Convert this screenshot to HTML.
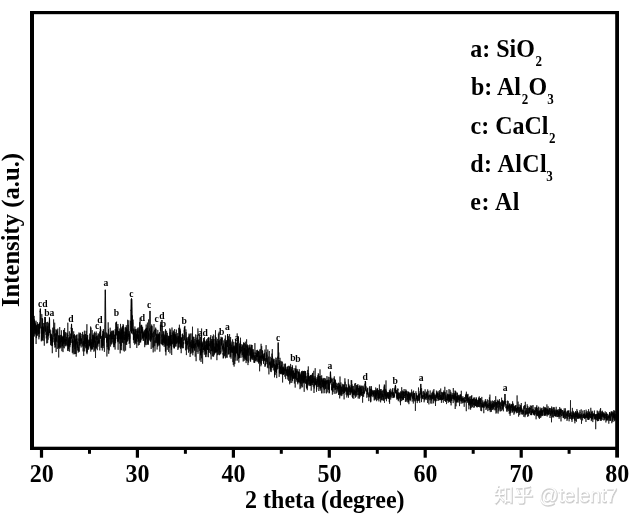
<!DOCTYPE html>
<html><head><meta charset="utf-8"><title>XRD</title>
<style>html,body{margin:0;padding:0;background:#fff}svg text{font-family:"Liberation Serif","Noto Serif CJK SC",serif;font-weight:bold;fill:#000}svg text.wm{font-family:"Liberation Sans","Noto Sans CJK SC",sans-serif;font-weight:normal}</style>
</head><body>
<svg width="634" height="520" viewBox="0 0 634 520" style="display:block;will-change:transform">
<rect width="634" height="520" fill="#fff"/>
<polyline points="32.5,325.6 32.6,337.9 32.7,335.7 32.8,329.6 32.9,327.3 33.0,333.3 33.1,316.8 33.2,320.3 33.3,337.0 33.4,324.8 33.5,332.5 33.6,334.1 33.7,323.6 33.8,335.6 33.9,320.4 34.0,328.4 34.1,327.8 34.2,315.9 34.3,336.5 34.4,319.4 34.5,321.4 34.6,333.6 34.7,320.9 34.8,329.7 34.9,325.3 35.0,325.1 35.1,322.6 35.2,325.7 35.3,328.5 35.4,330.7 35.5,323.6 35.6,334.5 35.7,328.2 35.8,332.8 35.9,324.8 36.0,320.7 36.1,344.0 36.2,324.8 36.3,338.1 36.4,333.2 36.5,328.7 36.6,326.1 36.7,326.3 36.8,336.2 36.9,325.0 37.0,332.7 37.1,327.1 37.2,327.2 37.3,326.3 37.4,322.1 37.5,334.2 37.6,335.6 37.7,333.2 37.8,324.1 37.9,325.5 38.0,324.7 38.1,334.4 38.2,326.8 38.3,326.1 38.4,331.1 38.5,331.3 38.6,330.1 38.7,334.0 38.8,324.1 38.9,339.3 39.0,326.4 39.1,323.9 39.2,337.2 39.3,323.2 39.4,328.9 39.5,322.4 39.7,333.6 39.8,325.9 39.9,325.7 40.0,316.6 40.1,310.7 40.2,312.2 40.3,309.7 40.4,308.8 40.5,311.0 40.6,313.1 40.7,312.9 40.8,319.3 40.9,318.4 41.0,327.3 41.1,328.2 41.2,334.3 41.3,341.3 41.4,335.7 41.5,329.2 41.6,326.7 41.7,339.9 41.8,314.1 41.9,318.8 42.0,319.3 42.1,341.1 42.2,318.0 42.3,330.8 42.4,340.0 42.5,330.8 42.6,318.8 42.7,331.8 42.8,330.6 42.9,334.0 43.0,326.7 43.1,328.7 43.2,337.6 43.3,331.6 43.4,326.7 43.5,334.3 43.6,336.4 43.7,339.0 43.8,340.8 43.9,323.0 44.0,333.2 44.1,323.0 44.2,331.5 44.3,345.7 44.4,330.4 44.5,328.1 44.6,321.9 44.7,321.0 44.8,320.4 44.9,318.5 45.0,317.2 45.1,319.4 45.2,316.9 45.3,323.6 45.4,319.0 45.5,331.8 45.6,329.6 45.7,325.6 45.8,331.0 45.9,327.6 46.0,335.0 46.1,322.7 46.2,338.4 46.3,337.6 46.4,331.7 46.5,333.9 46.6,340.3 46.7,343.4 46.8,335.9 46.9,336.5 47.0,322.0 47.1,328.1 47.2,334.3 47.3,331.0 47.4,326.3 47.5,333.7 47.6,343.1 47.7,341.9 47.8,321.8 47.9,335.4 48.0,329.3 48.1,339.7 48.2,332.1 48.3,334.9 48.4,336.3 48.5,330.6 48.6,324.9 48.7,323.2 48.8,335.3 48.9,327.0 49.0,326.7 49.1,327.6 49.2,322.8 49.3,321.2 49.4,317.3 49.5,318.7 49.6,319.1 49.7,322.1 49.8,330.0 49.9,329.3 50.0,329.5 50.1,334.5 50.2,335.4 50.3,338.0 50.4,333.5 50.5,339.9 50.6,344.9 50.7,330.2 50.8,340.9 50.9,335.2 51.0,340.9 51.1,334.4 51.2,345.6 51.3,339.0 51.4,333.8 51.5,334.3 51.6,337.0 51.7,342.6 51.8,340.4 51.9,346.1 52.0,335.2 52.1,336.5 52.2,340.5 52.3,353.2 52.4,337.8 52.5,344.0 52.6,345.6 52.7,327.7 52.8,335.2 52.9,339.3 53.0,337.2 53.1,342.3 53.2,341.6 53.3,330.6 53.4,331.6 53.5,332.8 53.6,319.4 53.7,324.8 53.8,337.0 54.0,334.5 54.1,327.3 54.2,333.4 54.3,335.6 54.4,333.8 54.5,344.8 54.6,337.2 54.7,322.7 54.8,342.4 54.9,345.0 55.0,347.7 55.1,341.5 55.2,338.7 55.3,347.1 55.4,342.0 55.5,337.3 55.6,342.1 55.7,333.3 55.8,340.6 55.9,329.3 56.0,338.8 56.1,352.0 56.2,333.7 56.3,335.5 56.4,337.1 56.5,341.6 56.6,330.3 56.7,332.9 56.8,335.8 56.9,334.9 57.0,329.6 57.1,344.6 57.2,344.4 57.3,349.0 57.4,341.0 57.5,332.7 57.6,331.6 57.7,334.4 57.8,328.6 57.9,335.1 58.0,342.5 58.1,339.0 58.2,337.3 58.3,334.9 58.4,348.0 58.5,340.1 58.6,344.0 58.7,357.5 58.8,335.8 58.9,347.4 59.0,345.1 59.1,336.4 59.2,340.7 59.3,337.0 59.4,336.0 59.5,347.5 59.6,337.6 59.7,327.1 59.8,348.9 59.9,342.4 60.0,335.0 60.1,337.4 60.2,343.4 60.3,337.5 60.4,341.4 60.5,347.6 60.6,340.6 60.7,343.4 60.8,342.3 60.9,341.2 61.0,334.8 61.1,347.5 61.2,335.7 61.3,340.8 61.4,330.3 61.5,339.5 61.6,342.0 61.7,335.1 61.8,336.0 61.9,351.2 62.0,346.4 62.1,336.1 62.2,346.1 62.3,340.6 62.4,345.7 62.5,336.9 62.6,343.2 62.7,343.9 62.8,339.8 62.9,337.4 63.0,352.1 63.1,338.6 63.2,347.6 63.3,338.8 63.4,336.2 63.5,342.6 63.6,329.9 63.7,337.3 63.8,343.4 63.9,330.2 64.0,344.2 64.1,339.8 64.2,342.9 64.3,348.3 64.4,346.8 64.5,340.9 64.6,328.0 64.7,342.1 64.8,341.2 64.9,339.0 65.0,341.9 65.1,333.6 65.2,345.9 65.3,341.1 65.4,332.1 65.5,340.0 65.6,344.5 65.7,340.5 65.8,339.3 65.9,346.4 66.0,340.9 66.1,339.2 66.2,341.0 66.3,339.4 66.4,336.9 66.5,337.8 66.6,344.7 66.7,344.6 66.8,341.0 66.9,332.6 67.0,340.9 67.1,345.0 67.2,346.0 67.3,333.5 67.4,344.8 67.5,344.6 67.6,344.7 67.7,350.8 67.8,322.7 67.9,336.3 68.0,335.2 68.2,351.1 68.3,341.1 68.4,349.0 68.5,339.9 68.6,341.6 68.7,338.3 68.8,346.6 68.9,337.2 69.0,341.4 69.1,345.9 69.2,339.3 69.3,331.4 69.4,331.3 69.5,336.1 69.6,351.7 69.7,336.7 69.8,343.4 69.9,347.2 70.0,337.4 70.1,342.9 70.2,336.9 70.3,344.6 70.4,345.1 70.5,333.6 70.6,341.5 70.7,337.1 70.8,342.6 70.9,343.0 71.0,335.5 71.1,329.5 71.2,327.5 71.3,329.0 71.4,325.7 71.5,324.2 71.6,324.1 71.7,325.2 71.8,329.8 71.9,334.0 72.0,342.9 72.1,341.1 72.2,339.2 72.3,352.8 72.4,328.1 72.5,338.3 72.6,348.0 72.7,341.5 72.8,340.6 72.9,344.5 73.0,352.5 73.1,340.8 73.2,354.3 73.3,337.8 73.4,336.2 73.5,335.2 73.6,338.1 73.7,331.3 73.8,342.8 73.9,346.6 74.0,340.0 74.1,335.2 74.2,339.2 74.3,342.2 74.4,334.0 74.5,341.2 74.6,354.2 74.7,340.7 74.8,338.3 74.9,335.6 75.0,349.0 75.1,338.5 75.2,341.6 75.3,354.0 75.4,339.8 75.5,345.5 75.6,344.9 75.7,338.2 75.8,335.5 75.9,354.0 76.0,349.9 76.1,341.3 76.2,356.7 76.3,339.1 76.4,340.7 76.5,334.9 76.6,342.8 76.7,344.4 76.8,338.9 76.9,339.2 77.0,335.0 77.1,334.4 77.2,336.6 77.3,347.8 77.4,341.5 77.5,346.2 77.6,350.5 77.7,348.0 77.8,344.7 77.9,346.8 78.0,338.5 78.1,338.7 78.2,352.6 78.3,352.0 78.4,346.9 78.5,351.4 78.6,342.5 78.7,342.8 78.8,341.1 78.9,332.5 79.0,332.6 79.1,341.2 79.2,334.4 79.3,338.6 79.4,351.7 79.5,341.9 79.6,338.6 79.7,345.1 79.8,342.5 79.9,338.2 80.0,332.9 80.1,345.8 80.2,341.3 80.3,337.4 80.4,332.8 80.5,341.0 80.6,336.7 80.7,336.0 80.8,344.0 80.9,337.9 81.0,345.4 81.1,347.5 81.2,338.6 81.3,340.7 81.4,340.6 81.5,338.9 81.6,343.5 81.7,337.8 81.8,337.2 81.9,333.9 82.0,342.2 82.1,344.5 82.2,346.6 82.3,339.9 82.5,338.6 82.6,331.9 82.7,342.0 82.8,345.4 82.9,343.8 83.0,341.6 83.1,351.4 83.2,340.6 83.3,334.7 83.4,338.7 83.5,344.2 83.6,341.7 83.7,355.9 83.8,341.1 83.9,345.4 84.0,337.1 84.1,334.7 84.2,346.4 84.3,346.5 84.4,330.7 84.5,344.7 84.6,345.3 84.7,351.4 84.8,341.7 84.9,337.8 85.0,339.8 85.1,345.7 85.2,334.4 85.3,344.0 85.4,340.9 85.5,337.9 85.6,334.1 85.7,340.5 85.8,347.6 85.9,345.1 86.0,348.4 86.1,330.8 86.2,344.3 86.3,338.1 86.4,347.3 86.5,342.4 86.6,352.7 86.7,337.2 86.8,342.5 86.9,324.2 87.0,354.2 87.1,335.1 87.2,335.6 87.3,343.5 87.4,352.3 87.5,338.1 87.6,348.1 87.7,335.1 87.8,349.6 87.9,343.9 88.0,347.6 88.1,345.9 88.2,340.9 88.3,339.6 88.4,346.7 88.5,346.8 88.6,349.6 88.7,345.8 88.8,341.5 88.9,343.0 89.0,340.0 89.1,340.3 89.2,345.0 89.3,346.2 89.4,343.2 89.5,339.7 89.6,345.0 89.7,333.6 89.8,346.3 89.9,345.5 90.0,337.3 90.1,339.6 90.2,348.3 90.3,347.8 90.4,341.3 90.5,344.8 90.6,326.5 90.7,347.4 90.8,351.6 90.9,337.1 91.0,327.6 91.1,342.6 91.2,348.6 91.3,339.3 91.4,349.8 91.5,345.4 91.6,342.0 91.7,346.0 91.8,349.0 91.9,343.2 92.0,334.0 92.1,332.0 92.2,330.1 92.3,332.4 92.4,349.5 92.5,346.8 92.6,334.7 92.7,348.5 92.8,335.0 92.9,344.0 93.0,342.9 93.1,337.5 93.2,340.0 93.3,337.1 93.4,340.6 93.5,347.1 93.6,335.6 93.7,345.0 93.8,334.5 93.9,351.7 94.0,334.5 94.1,332.9 94.2,339.2 94.3,339.2 94.4,339.5 94.5,342.7 94.6,331.7 94.7,350.6 94.8,336.9 94.9,338.9 95.0,336.8 95.1,339.3 95.2,348.4 95.3,340.7 95.4,344.3 95.5,358.0 95.6,348.8 95.7,345.0 95.8,333.1 95.9,346.5 96.0,347.5 96.1,341.3 96.2,331.5 96.3,339.9 96.4,336.1 96.5,348.6 96.7,344.0 96.8,343.1 96.9,336.3 97.0,336.9 97.1,346.3 97.2,346.6 97.3,350.2 97.4,343.0 97.5,341.3 97.6,345.2 97.7,335.4 97.8,340.0 97.9,337.8 98.0,346.7 98.1,333.3 98.2,337.2 98.3,340.9 98.4,343.8 98.5,340.1 98.6,343.0 98.7,339.2 98.8,333.9 98.9,341.3 99.0,342.0 99.1,340.5 99.2,340.6 99.3,342.4 99.4,343.6 99.5,341.3 99.6,331.6 99.7,346.5 99.8,350.4 99.9,334.8 100.0,335.1 100.1,337.2 100.2,332.2 100.3,326.4 100.4,330.3 100.5,326.5 100.6,328.5 100.7,328.7 100.8,330.5 100.9,329.8 101.0,336.6 101.1,339.7 101.2,347.7 101.3,340.7 101.4,339.8 101.5,341.1 101.6,336.0 101.7,345.0 101.8,347.8 101.9,341.0 102.0,343.2 102.1,341.6 102.2,337.5 102.3,350.5 102.4,334.9 102.5,345.3 102.6,346.0 102.7,334.4 102.8,345.4 102.9,331.0 103.0,346.1 103.1,330.7 103.2,348.1 103.3,341.5 103.4,329.1 103.5,332.3 103.6,335.0 103.7,336.0 103.8,335.9 103.9,337.0 104.0,339.9 104.1,332.3 104.2,336.7 104.3,337.3 104.4,351.9 104.5,334.2 104.6,324.4 104.7,324.4 104.8,321.5 104.9,311.5 105.0,300.8 105.1,296.3 105.2,289.8 105.3,289.9 105.4,292.3 105.5,295.6 105.6,306.1 105.7,310.2 105.8,318.2 105.9,319.7 106.0,329.6 106.1,334.6 106.2,338.1 106.3,332.5 106.4,338.4 106.5,338.5 106.6,342.6 106.7,337.5 106.8,336.9 106.9,356.5 107.0,349.6 107.1,333.4 107.2,347.0 107.3,334.6 107.4,340.4 107.5,339.8 107.6,338.8 107.7,338.9 107.8,337.6 107.9,342.9 108.0,347.1 108.1,349.2 108.2,322.3 108.3,349.8 108.4,337.0 108.5,329.1 108.6,338.5 108.7,353.8 108.8,348.8 108.9,347.9 109.0,334.8 109.1,350.1 109.2,350.4 109.3,349.9 109.4,346.5 109.5,337.6 109.6,334.7 109.7,334.9 109.8,339.4 109.9,339.5 110.0,337.8 110.1,335.3 110.2,327.7 110.3,336.2 110.4,333.8 110.5,342.8 110.6,346.6 110.7,331.9 110.9,343.6 111.0,341.2 111.1,338.9 111.2,332.6 111.3,333.8 111.4,338.5 111.5,330.8 111.6,344.5 111.7,337.6 111.8,339.4 111.9,336.9 112.0,333.7 112.1,335.9 112.2,342.3 112.3,342.4 112.4,337.4 112.5,335.9 112.6,339.0 112.7,331.2 112.8,336.7 112.9,330.4 113.0,334.1 113.1,343.7 113.2,339.4 113.3,331.2 113.4,333.4 113.5,339.0 113.6,330.6 113.7,338.1 113.8,347.2 113.9,339.3 114.0,344.9 114.1,338.0 114.2,347.1 114.3,338.4 114.4,338.0 114.5,345.0 114.6,334.6 114.7,335.8 114.8,334.9 114.9,338.7 115.0,335.9 115.1,349.6 115.2,329.1 115.3,341.0 115.4,332.2 115.5,337.4 115.6,343.3 115.7,332.1 115.8,322.6 115.9,334.6 116.0,334.3 116.1,327.0 116.2,323.7 116.3,322.3 116.4,322.2 116.5,322.0 116.6,321.6 116.7,324.8 116.8,328.7 116.9,331.1 117.0,334.4 117.1,339.0 117.2,333.8 117.3,329.1 117.4,340.7 117.5,335.7 117.6,336.2 117.7,326.7 117.8,342.2 117.9,324.0 118.0,334.2 118.1,349.8 118.2,334.3 118.3,341.7 118.4,331.9 118.5,331.3 118.6,340.2 118.7,340.8 118.8,333.9 118.9,331.0 119.0,333.6 119.1,336.1 119.2,331.2 119.3,343.6 119.4,332.7 119.5,334.0 119.6,331.6 119.7,328.5 119.8,339.4 119.9,332.2 120.0,338.8 120.1,336.2 120.2,353.4 120.3,341.3 120.4,349.9 120.5,323.9 120.6,337.4 120.7,340.9 120.8,329.9 120.9,338.7 121.0,332.4 121.1,346.0 121.2,334.9 121.3,335.3 121.4,350.2 121.5,335.0 121.6,329.1 121.7,338.8 121.8,331.2 121.9,327.7 122.0,338.0 122.1,339.8 122.2,327.1 122.3,342.2 122.4,325.9 122.5,334.6 122.6,342.9 122.7,339.4 122.8,328.0 122.9,333.2 123.0,329.8 123.1,324.0 123.2,340.2 123.3,350.6 123.4,329.8 123.5,325.3 123.6,332.2 123.7,338.4 123.8,339.8 123.9,331.8 124.0,343.6 124.1,331.5 124.2,337.8 124.3,351.6 124.4,338.6 124.5,337.2 124.6,340.0 124.7,334.7 124.8,336.5 124.9,330.3 125.0,328.5 125.2,327.3 125.3,339.6 125.4,327.4 125.5,338.1 125.6,350.6 125.7,340.9 125.8,332.3 125.9,338.2 126.0,344.9 126.1,331.7 126.2,343.2 126.3,325.2 126.4,328.6 126.5,342.2 126.6,327.7 126.7,344.8 126.8,332.7 126.9,337.9 127.0,335.0 127.1,329.2 127.2,340.7 127.3,335.4 127.4,341.6 127.5,326.5 127.6,319.8 127.7,335.2 127.8,335.2 127.9,333.9 128.0,339.2 128.1,337.4 128.2,324.8 128.3,326.6 128.4,330.8 128.5,334.7 128.6,333.9 128.7,336.8 128.8,320.3 128.9,340.6 129.0,334.0 129.1,336.4 129.2,344.0 129.3,338.4 129.4,331.3 129.5,332.4 129.6,342.8 129.7,335.4 129.8,338.7 129.9,333.5 130.0,344.0 130.1,348.1 130.2,329.1 130.3,328.8 130.4,325.4 130.5,320.8 130.6,331.4 130.7,325.3 130.8,311.0 130.9,309.8 131.0,310.8 131.1,305.8 131.2,304.4 131.3,300.3 131.4,300.6 131.5,298.1 131.6,299.7 131.7,300.2 131.8,302.7 131.9,306.4 132.0,307.5 132.1,310.8 132.2,313.5 132.3,324.8 132.4,315.4 132.5,323.2 132.6,331.3 132.7,322.7 132.8,322.5 132.9,333.9 133.0,322.0 133.1,319.6 133.2,334.8 133.3,332.4 133.4,339.9 133.5,329.7 133.6,340.2 133.7,331.9 133.8,328.5 133.9,342.4 134.0,343.1 134.1,329.4 134.2,332.7 134.3,335.4 134.4,338.3 134.5,334.5 134.6,332.5 134.7,344.7 134.8,337.3 134.9,326.5 135.0,328.7 135.1,331.3 135.2,341.5 135.3,342.0 135.4,329.3 135.5,343.4 135.6,339.0 135.7,341.1 135.8,339.2 135.9,329.9 136.0,329.0 136.1,343.8 136.2,330.6 136.3,338.9 136.4,341.2 136.5,334.2 136.6,341.8 136.7,341.7 136.8,348.0 136.9,337.3 137.0,335.6 137.1,336.3 137.2,328.7 137.3,337.9 137.4,330.9 137.5,335.8 137.6,339.1 137.7,336.6 137.8,327.7 137.9,341.8 138.0,337.2 138.1,330.6 138.2,335.4 138.3,345.5 138.4,334.4 138.5,334.6 138.6,339.8 138.7,341.1 138.8,334.8 138.9,327.4 139.0,333.1 139.1,328.9 139.2,345.0 139.4,339.2 139.5,334.2 139.6,322.2 139.7,331.7 139.8,343.1 139.9,338.4 140.0,333.7 140.1,317.6 140.2,334.6 140.3,331.6 140.4,341.9 140.5,334.1 140.6,337.9 140.7,342.4 140.8,325.4 140.9,327.7 141.0,330.0 141.1,335.9 141.2,340.3 141.3,332.5 141.4,326.4 141.5,328.5 141.6,324.8 141.7,325.6 141.8,326.3 141.9,331.2 142.0,328.2 142.1,333.0 142.2,339.0 142.3,334.4 142.4,336.5 142.5,337.6 142.6,326.8 142.7,337.9 142.8,329.5 142.9,333.0 143.0,332.7 143.1,333.6 143.2,340.7 143.3,332.3 143.4,340.7 143.5,335.5 143.6,333.0 143.7,332.7 143.8,336.6 143.9,337.4 144.0,331.0 144.1,337.3 144.2,334.1 144.3,335.9 144.4,335.0 144.5,334.9 144.6,330.2 144.7,347.2 144.8,341.9 144.9,332.6 145.0,333.0 145.1,333.4 145.2,344.5 145.3,329.1 145.4,342.2 145.5,333.4 145.6,333.7 145.7,328.6 145.8,340.4 145.9,345.2 146.0,340.4 146.1,332.7 146.2,324.5 146.3,334.3 146.4,339.4 146.5,328.1 146.6,338.0 146.7,331.1 146.8,328.2 146.9,328.2 147.0,344.9 147.1,334.4 147.2,327.3 147.3,332.6 147.4,322.6 147.5,326.5 147.6,325.9 147.7,338.7 147.8,343.4 147.9,331.7 148.0,344.1 148.1,330.8 148.2,345.0 148.3,340.9 148.4,339.3 148.5,334.3 148.6,319.4 148.7,336.5 148.8,332.8 148.9,337.3 149.0,340.7 149.1,338.4 149.2,334.5 149.3,339.6 149.4,334.5 149.5,328.4 149.6,331.2 149.7,321.1 149.8,315.2 149.9,313.0 150.0,310.9 150.1,314.2 150.2,316.4 150.3,327.1 150.4,341.5 150.5,336.3 150.6,338.2 150.7,330.9 150.8,341.5 150.9,326.5 151.0,329.5 151.1,336.9 151.2,349.0 151.3,341.4 151.4,333.3 151.5,325.7 151.6,339.6 151.7,324.5 151.8,325.3 151.9,335.5 152.0,335.6 152.1,326.1 152.2,330.8 152.3,337.4 152.4,333.3 152.5,337.9 152.6,341.1 152.7,345.4 152.8,347.6 152.9,341.5 153.0,337.1 153.1,335.7 153.2,352.4 153.3,336.5 153.4,335.7 153.5,331.6 153.7,347.4 153.8,340.5 153.9,332.0 154.0,324.1 154.1,331.7 154.2,334.9 154.3,336.9 154.4,329.9 154.5,334.3 154.6,340.4 154.7,345.9 154.8,342.2 154.9,340.3 155.0,351.5 155.1,337.3 155.2,342.8 155.3,328.8 155.4,330.8 155.5,334.5 155.6,332.7 155.7,327.6 155.8,332.6 155.9,336.1 156.0,329.2 156.1,343.3 156.2,336.1 156.3,342.6 156.4,336.6 156.5,334.4 156.6,336.6 156.7,337.3 156.8,333.7 156.9,340.5 157.0,336.1 157.1,349.5 157.2,347.2 157.3,334.4 157.4,345.2 157.5,339.9 157.6,337.6 157.7,346.7 157.8,329.9 157.9,336.7 158.0,338.7 158.1,343.4 158.2,333.5 158.3,338.3 158.4,339.5 158.5,334.3 158.6,343.5 158.7,344.5 158.8,334.8 158.9,345.8 159.0,334.8 159.1,339.8 159.2,341.6 159.3,338.4 159.4,345.1 159.5,332.2 159.6,338.2 159.7,333.8 159.8,351.7 159.9,349.3 160.0,337.0 160.1,341.3 160.2,343.7 160.3,335.8 160.4,324.7 160.5,330.9 160.6,330.6 160.7,325.9 160.8,324.4 160.9,322.7 161.0,321.7 161.1,323.6 161.2,326.9 161.3,325.3 161.4,327.1 161.5,338.4 161.6,339.5 161.7,344.1 161.8,334.6 161.9,343.3 162.0,344.5 162.1,339.9 162.2,339.3 162.3,344.5 162.4,325.7 162.5,341.3 162.6,340.6 162.7,343.9 162.8,345.5 162.9,338.6 163.0,335.3 163.1,334.0 163.2,345.1 163.3,331.0 163.4,334.4 163.5,335.7 163.6,342.8 163.7,332.3 163.8,335.7 163.9,338.3 164.0,342.3 164.1,338.0 164.2,346.9 164.3,336.9 164.4,341.2 164.5,343.7 164.6,334.6 164.7,341.0 164.8,337.8 164.9,336.4 165.0,337.7 165.1,345.6 165.2,330.8 165.3,339.3 165.4,351.4 165.5,329.2 165.6,341.3 165.7,351.7 165.8,340.5 165.9,355.4 166.0,338.7 166.1,343.8 166.2,338.6 166.3,335.1 166.4,344.7 166.5,342.4 166.6,330.8 166.7,341.5 166.8,344.6 166.9,345.9 167.0,346.1 167.1,344.4 167.2,349.8 167.3,332.9 167.4,334.1 167.5,341.4 167.6,345.4 167.7,344.0 167.9,335.4 168.0,341.7 168.1,345.1 168.2,338.5 168.3,341.6 168.4,342.3 168.5,338.9 168.6,351.9 168.7,339.6 168.8,336.0 168.9,347.5 169.0,336.4 169.1,347.6 169.2,336.1 169.3,345.0 169.4,339.5 169.5,337.7 169.6,339.1 169.7,328.4 169.8,328.7 169.9,345.8 170.0,353.4 170.1,332.1 170.2,336.0 170.3,345.5 170.4,339.1 170.5,344.0 170.6,329.6 170.7,343.0 170.8,334.9 170.9,346.2 171.0,339.1 171.1,343.9 171.2,341.1 171.3,335.0 171.4,349.7 171.5,341.1 171.6,344.4 171.7,355.0 171.8,343.2 171.9,333.1 172.0,327.5 172.1,331.6 172.2,343.7 172.3,332.5 172.4,337.4 172.5,337.5 172.6,344.3 172.7,340.2 172.8,339.8 172.9,335.5 173.0,335.8 173.1,330.4 173.2,337.1 173.3,346.9 173.4,336.3 173.5,337.4 173.6,331.3 173.7,343.0 173.8,334.0 173.9,341.6 174.0,348.3 174.1,334.6 174.2,348.3 174.3,340.2 174.4,333.5 174.5,348.1 174.6,329.0 174.7,343.5 174.8,338.9 174.9,338.5 175.0,340.7 175.1,332.2 175.2,338.8 175.3,334.8 175.4,346.1 175.5,346.5 175.6,335.9 175.7,344.3 175.8,334.0 175.9,336.9 176.0,342.4 176.1,346.5 176.2,338.3 176.3,337.2 176.4,329.6 176.5,343.5 176.6,340.4 176.7,338.6 176.8,336.5 176.9,339.3 177.0,343.5 177.1,342.9 177.2,338.6 177.3,337.9 177.4,342.4 177.5,335.9 177.6,333.1 177.7,333.2 177.8,336.7 177.9,350.0 178.0,345.2 178.1,335.9 178.2,345.3 178.3,348.5 178.4,348.1 178.5,336.5 178.6,343.8 178.7,327.8 178.8,337.7 178.9,344.0 179.0,347.0 179.1,340.3 179.2,336.7 179.3,343.6 179.4,324.7 179.5,334.4 179.6,342.8 179.7,341.0 179.8,327.8 179.9,337.1 180.0,347.7 180.1,329.1 180.2,336.9 180.3,344.3 180.4,330.7 180.5,348.8 180.6,339.8 180.7,338.6 180.8,346.0 180.9,346.8 181.0,345.0 181.1,337.4 181.2,353.2 181.3,337.4 181.4,341.3 181.5,338.4 181.6,341.3 181.7,340.4 181.8,346.7 181.9,339.4 182.0,347.8 182.2,334.1 182.3,336.9 182.4,348.3 182.5,337.4 182.6,333.6 182.7,336.3 182.8,338.8 182.9,337.0 183.0,338.0 183.1,335.5 183.2,335.9 183.3,335.5 183.4,346.3 183.5,348.2 183.6,342.1 183.7,344.3 183.8,338.6 183.9,340.9 184.0,334.4 184.1,330.5 184.2,331.4 184.3,328.1 184.4,327.8 184.5,326.7 184.6,329.2 184.7,330.1 184.8,328.3 184.9,325.9 185.0,336.5 185.1,336.2 185.2,337.2 185.3,342.1 185.4,343.5 185.5,339.7 185.6,350.3 185.7,345.8 185.8,344.3 185.9,329.4 186.0,344.0 186.1,332.1 186.2,337.7 186.3,341.2 186.4,355.1 186.5,343.4 186.6,337.5 186.7,347.8 186.8,341.0 186.9,349.5 187.0,344.5 187.1,338.7 187.2,338.4 187.3,338.8 187.4,345.4 187.5,341.1 187.6,344.7 187.7,343.2 187.8,341.4 187.9,342.2 188.0,337.0 188.1,342.2 188.2,349.3 188.3,345.4 188.4,346.0 188.5,352.7 188.6,336.5 188.7,344.5 188.8,343.7 188.9,340.3 189.0,333.6 189.1,337.0 189.2,341.4 189.3,338.4 189.4,334.6 189.5,346.8 189.6,339.8 189.7,338.6 189.8,351.3 189.9,342.5 190.0,341.8 190.1,357.0 190.2,347.8 190.3,343.5 190.4,333.5 190.5,340.7 190.6,345.6 190.7,353.9 190.8,342.1 190.9,343.0 191.0,346.8 191.1,345.5 191.2,344.3 191.3,340.2 191.4,348.1 191.5,348.3 191.6,344.4 191.7,344.4 191.8,353.3 191.9,333.6 192.0,333.4 192.1,348.2 192.2,339.6 192.3,351.5 192.4,337.5 192.5,326.7 192.6,341.3 192.7,336.7 192.8,355.3 192.9,341.2 193.0,344.1 193.1,352.6 193.2,345.9 193.3,348.1 193.4,336.8 193.5,348.0 193.6,347.0 193.7,343.5 193.8,340.9 193.9,348.3 194.0,336.9 194.1,340.7 194.2,342.3 194.3,342.9 194.4,349.8 194.5,343.9 194.6,347.1 194.7,350.9 194.8,339.9 194.9,339.0 195.0,346.0 195.1,345.0 195.2,356.7 195.3,353.2 195.4,342.9 195.5,346.3 195.6,334.4 195.7,334.8 195.8,348.2 195.9,347.6 196.0,345.5 196.1,361.2 196.2,352.1 196.4,346.6 196.5,340.2 196.6,342.1 196.7,344.7 196.8,339.6 196.9,337.6 197.0,351.9 197.1,345.2 197.2,334.9 197.3,339.2 197.4,340.6 197.5,345.6 197.6,343.1 197.7,339.9 197.8,346.8 197.9,328.4 198.0,353.8 198.1,351.1 198.2,351.5 198.3,339.8 198.4,342.4 198.5,345.7 198.6,342.4 198.7,343.5 198.8,348.6 198.9,344.1 199.0,346.9 199.1,339.4 199.2,350.9 199.3,348.5 199.4,334.4 199.5,340.5 199.6,344.8 199.7,341.2 199.8,341.3 199.9,360.4 200.0,354.1 200.1,342.9 200.2,346.0 200.3,343.4 200.4,343.2 200.5,336.9 200.6,355.4 200.7,349.1 200.8,354.9 200.9,345.9 201.0,362.0 201.1,356.0 201.2,355.8 201.3,335.9 201.4,358.3 201.5,343.3 201.6,328.5 201.7,352.9 201.8,349.9 201.9,342.6 202.0,343.0 202.1,346.2 202.2,343.7 202.3,347.1 202.4,343.7 202.5,350.5 202.6,363.7 202.7,341.6 202.8,348.7 202.9,350.3 203.0,352.4 203.1,350.2 203.2,348.0 203.3,349.9 203.4,346.3 203.5,338.1 203.6,349.8 203.7,347.6 203.8,347.8 203.9,347.5 204.0,339.9 204.1,349.4 204.2,346.7 204.3,354.7 204.4,344.8 204.5,337.1 204.6,342.9 204.7,349.5 204.8,340.5 204.9,351.0 205.0,346.7 205.1,348.1 205.2,351.5 205.3,345.0 205.4,351.5 205.5,357.1 205.6,347.5 205.7,341.3 205.8,345.2 205.9,354.1 206.0,354.4 206.1,342.2 206.2,349.7 206.3,354.3 206.4,350.9 206.5,350.3 206.6,340.4 206.7,348.8 206.8,339.1 206.9,357.1 207.0,350.1 207.1,346.8 207.2,346.3 207.3,348.3 207.4,344.1 207.5,348.8 207.6,350.0 207.7,340.9 207.8,349.6 207.9,337.9 208.0,344.4 208.1,349.5 208.2,347.0 208.3,344.7 208.4,338.0 208.5,357.2 208.6,337.1 208.7,352.1 208.8,340.6 208.9,337.7 209.0,347.7 209.1,350.2 209.2,348.5 209.3,353.0 209.4,345.4 209.5,345.0 209.6,346.0 209.7,343.3 209.8,345.1 209.9,341.1 210.0,343.8 210.1,345.1 210.2,347.7 210.3,337.2 210.4,349.5 210.6,354.3 210.7,348.5 210.8,335.1 210.9,351.0 211.0,350.1 211.1,359.4 211.2,341.3 211.3,350.5 211.4,351.0 211.5,339.1 211.6,342.2 211.7,344.3 211.8,348.0 211.9,351.2 212.0,350.5 212.1,341.2 212.2,342.5 212.3,344.5 212.4,356.2 212.5,338.6 212.6,336.3 212.7,351.4 212.8,340.8 212.9,347.4 213.0,339.0 213.1,352.3 213.2,356.7 213.3,341.3 213.4,334.5 213.5,345.9 213.6,350.4 213.7,356.4 213.8,353.9 213.9,343.3 214.0,351.2 214.1,339.0 214.2,349.4 214.3,350.1 214.4,354.7 214.5,352.4 214.6,350.5 214.7,352.7 214.8,346.5 214.9,353.5 215.0,347.1 215.1,352.8 215.2,335.4 215.3,350.3 215.4,351.7 215.5,330.2 215.6,351.6 215.7,348.9 215.8,352.3 215.9,349.6 216.0,344.7 216.1,344.8 216.2,337.3 216.3,340.3 216.4,352.5 216.5,344.8 216.6,342.8 216.7,345.4 216.8,340.6 216.9,360.2 217.0,343.9 217.1,351.9 217.2,345.4 217.3,342.2 217.4,338.9 217.5,355.2 217.6,349.5 217.7,349.9 217.8,351.1 217.9,346.9 218.0,343.6 218.1,346.6 218.2,344.3 218.3,350.3 218.4,333.5 218.5,348.6 218.6,340.9 218.7,353.8 218.8,350.1 218.9,345.1 219.0,355.0 219.1,331.7 219.2,346.2 219.3,355.2 219.4,344.5 219.5,340.3 219.6,348.5 219.7,348.5 219.8,352.4 219.9,351.2 220.0,342.5 220.1,349.6 220.2,349.3 220.3,338.9 220.4,346.8 220.5,352.2 220.6,354.3 220.7,350.8 220.8,352.3 220.9,353.3 221.0,336.8 221.1,341.6 221.2,343.1 221.3,341.1 221.4,338.8 221.5,338.5 221.6,338.3 221.7,337.4 221.8,339.4 221.9,347.7 222.0,351.5 222.1,349.9 222.2,345.9 222.3,346.9 222.4,349.5 222.5,337.5 222.6,342.8 222.7,348.4 222.8,346.0 222.9,346.2 223.0,354.7 223.1,353.0 223.2,358.5 223.3,345.7 223.4,347.3 223.5,343.6 223.6,358.0 223.7,345.0 223.8,340.4 223.9,346.5 224.0,350.0 224.1,351.2 224.2,347.4 224.3,348.3 224.4,356.3 224.5,353.5 224.6,344.9 224.7,339.9 224.9,338.7 225.0,355.5 225.1,355.1 225.2,349.5 225.3,354.1 225.4,335.4 225.5,358.3 225.6,341.9 225.7,351.4 225.8,341.9 225.9,342.4 226.0,345.1 226.1,351.7 226.2,352.7 226.3,350.5 226.4,340.2 226.5,343.6 226.6,346.1 226.7,351.5 226.8,357.3 226.9,341.8 227.0,357.9 227.1,346.2 227.2,340.6 227.3,341.8 227.4,336.0 227.5,335.3 227.6,334.0 227.7,334.7 227.8,337.4 227.9,342.5 228.0,344.7 228.1,346.0 228.2,354.5 228.3,349.2 228.4,336.2 228.5,340.0 228.6,344.6 228.7,354.1 228.8,352.5 228.9,339.3 229.0,354.3 229.1,349.0 229.2,346.7 229.3,350.1 229.4,349.1 229.5,343.6 229.6,334.1 229.7,345.8 229.8,343.6 229.9,352.6 230.0,357.4 230.1,340.1 230.2,344.8 230.3,351.0 230.4,352.9 230.5,351.1 230.6,337.0 230.7,356.8 230.8,348.9 230.9,343.3 231.0,358.7 231.1,356.9 231.2,347.0 231.3,352.5 231.4,347.7 231.5,348.5 231.6,344.8 231.7,351.5 231.8,342.1 231.9,341.6 232.0,345.3 232.1,346.3 232.2,353.0 232.3,347.6 232.4,350.6 232.5,352.5 232.6,339.4 232.7,353.9 232.8,359.0 232.9,362.1 233.0,346.7 233.1,347.8 233.2,353.2 233.3,364.9 233.4,354.7 233.5,346.5 233.6,355.5 233.7,341.8 233.8,354.6 233.9,352.8 234.0,345.7 234.1,366.6 234.2,345.7 234.3,354.0 234.4,354.2 234.5,348.3 234.6,347.9 234.7,347.1 234.8,364.1 234.9,352.1 235.0,357.5 235.1,357.3 235.2,345.6 235.3,342.3 235.4,356.2 235.5,340.0 235.6,351.4 235.7,352.2 235.8,348.4 235.9,360.7 236.0,342.6 236.1,349.3 236.2,351.5 236.3,346.5 236.4,353.2 236.5,350.5 236.6,353.4 236.7,343.1 236.8,350.2 236.9,346.1 237.0,343.2 237.1,351.5 237.2,333.4 237.3,352.1 237.4,360.6 237.5,347.9 237.6,354.8 237.7,341.6 237.8,348.0 237.9,351.8 238.0,355.7 238.1,336.7 238.2,343.2 238.3,336.5 238.4,341.8 238.5,358.8 238.6,354.3 238.7,355.9 238.8,362.6 238.9,362.1 239.1,344.1 239.2,358.2 239.3,353.4 239.4,356.7 239.5,353.7 239.6,346.1 239.7,357.9 239.8,343.2 239.9,350.1 240.0,354.2 240.1,349.7 240.2,350.5 240.3,341.3 240.4,352.4 240.5,337.7 240.6,346.2 240.7,348.4 240.8,352.7 240.9,350.7 241.0,357.8 241.1,353.2 241.2,353.2 241.3,346.7 241.4,349.7 241.5,351.3 241.6,349.9 241.7,351.0 241.8,344.8 241.9,344.1 242.0,351.4 242.1,354.8 242.2,355.3 242.3,344.9 242.4,350.9 242.5,354.7 242.6,345.8 242.7,348.9 242.8,353.9 242.9,357.3 243.0,355.7 243.1,354.4 243.2,361.5 243.3,356.6 243.4,352.0 243.5,354.3 243.6,342.3 243.7,357.5 243.8,343.2 243.9,355.7 244.0,352.8 244.1,360.9 244.2,348.0 244.3,350.5 244.4,357.5 244.5,356.8 244.6,343.2 244.7,359.4 244.8,348.1 244.9,352.8 245.0,348.0 245.1,347.7 245.2,347.5 245.3,341.7 245.4,346.9 245.5,359.7 245.6,344.4 245.7,357.9 245.8,356.0 245.9,352.6 246.0,350.5 246.1,363.1 246.2,349.4 246.3,355.2 246.4,350.0 246.5,360.5 246.6,339.3 246.7,347.8 246.8,345.6 246.9,354.7 247.0,347.8 247.1,361.2 247.2,359.3 247.3,349.8 247.4,344.5 247.5,355.5 247.6,345.7 247.7,354.1 247.8,359.8 247.9,363.4 248.0,365.1 248.1,349.2 248.2,352.6 248.3,347.8 248.4,347.6 248.5,347.8 248.6,362.6 248.7,358.5 248.8,354.0 248.9,345.2 249.0,351.2 249.1,355.9 249.2,351.9 249.3,348.7 249.4,349.3 249.5,348.8 249.6,347.9 249.7,349.1 249.8,344.5 249.9,354.7 250.0,346.9 250.1,357.8 250.2,360.7 250.3,360.6 250.4,351.7 250.5,355.1 250.6,361.8 250.7,350.7 250.8,349.0 250.9,355.2 251.0,348.1 251.1,355.8 251.2,344.8 251.3,357.9 251.4,344.9 251.5,353.9 251.6,359.4 251.7,356.4 251.8,350.0 251.9,351.9 252.0,357.4 252.1,356.4 252.2,345.0 252.3,350.9 252.4,352.0 252.5,359.6 252.6,349.2 252.7,353.2 252.8,357.8 252.9,354.3 253.0,353.5 253.1,353.0 253.2,360.1 253.4,359.3 253.5,349.4 253.6,350.4 253.7,356.6 253.8,352.2 253.9,354.0 254.0,362.7 254.1,355.7 254.2,359.4 254.3,362.6 254.4,355.3 254.5,358.3 254.6,360.1 254.7,362.9 254.8,355.6 254.9,343.1 255.0,353.1 255.1,354.0 255.2,354.3 255.3,352.5 255.4,358.3 255.5,357.3 255.6,361.3 255.7,355.0 255.8,357.5 255.9,358.0 256.0,360.7 256.1,350.3 256.2,351.3 256.3,360.3 256.4,359.6 256.5,353.2 256.6,356.9 256.7,356.3 256.8,354.7 256.9,356.4 257.0,357.0 257.1,350.1 257.2,362.1 257.3,351.1 257.4,349.8 257.5,356.3 257.6,352.9 257.7,356.4 257.8,351.5 257.9,360.7 258.0,354.4 258.1,354.4 258.2,353.6 258.3,351.3 258.4,351.9 258.5,363.5 258.6,362.9 258.7,350.9 258.8,359.9 258.9,359.1 259.0,362.2 259.1,352.1 259.2,362.1 259.3,358.8 259.4,358.8 259.5,355.6 259.6,371.3 259.7,351.9 259.8,349.6 259.9,359.2 260.0,357.0 260.1,357.1 260.2,357.6 260.3,348.9 260.4,351.4 260.5,358.2 260.6,363.5 260.7,355.9 260.8,356.1 260.9,366.3 261.0,356.0 261.1,343.8 261.2,357.8 261.3,357.7 261.4,355.3 261.5,364.7 261.6,361.1 261.7,346.1 261.8,352.6 261.9,352.1 262.0,361.1 262.1,361.0 262.2,356.2 262.3,358.3 262.4,350.2 262.5,357.3 262.6,355.1 262.7,350.8 262.8,358.6 262.9,354.9 263.0,360.3 263.1,357.9 263.2,357.7 263.3,359.2 263.4,356.1 263.5,363.9 263.6,356.2 263.7,362.5 263.8,359.1 263.9,353.5 264.0,357.7 264.1,354.1 264.2,360.3 264.3,354.2 264.4,355.1 264.5,352.9 264.6,360.9 264.7,355.8 264.8,355.1 264.9,349.6 265.0,367.0 265.1,363.6 265.2,365.6 265.3,363.4 265.4,365.3 265.5,358.2 265.6,360.3 265.7,362.8 265.8,364.2 265.9,360.9 266.0,358.0 266.1,345.1 266.2,360.6 266.3,356.3 266.4,355.0 266.5,352.3 266.6,357.1 266.7,362.1 266.8,361.3 266.9,354.6 267.0,356.3 267.1,364.1 267.2,358.2 267.3,360.1 267.4,367.6 267.6,365.9 267.7,356.1 267.8,349.5 267.9,359.4 268.0,362.5 268.1,368.3 268.2,366.1 268.3,363.8 268.4,361.1 268.5,360.5 268.6,359.9 268.7,356.6 268.8,360.8 268.9,374.4 269.0,363.1 269.1,362.7 269.2,353.4 269.3,351.0 269.4,364.1 269.5,362.5 269.6,365.2 269.7,365.3 269.8,361.8 269.9,364.0 270.0,362.4 270.1,364.5 270.2,368.7 270.3,356.8 270.4,368.0 270.5,363.6 270.6,362.8 270.7,371.5 270.8,363.7 270.9,369.8 271.0,362.5 271.1,361.0 271.2,372.1 271.3,367.1 271.4,366.8 271.5,358.1 271.6,367.2 271.7,365.3 271.8,358.4 271.9,353.6 272.0,361.4 272.1,367.9 272.2,359.6 272.3,349.1 272.4,358.1 272.5,356.5 272.6,358.0 272.7,362.7 272.8,367.7 272.9,358.4 273.0,366.9 273.1,362.6 273.2,361.2 273.3,370.4 273.4,359.3 273.5,366.0 273.6,360.1 273.7,360.3 273.8,361.8 273.9,361.3 274.0,364.6 274.1,360.1 274.2,358.9 274.3,366.6 274.4,366.6 274.5,377.4 274.6,363.9 274.7,365.7 274.8,375.2 274.9,364.8 275.0,365.8 275.1,374.7 275.2,365.1 275.3,366.1 275.4,370.6 275.5,371.9 275.6,366.3 275.7,369.5 275.8,357.6 275.9,360.0 276.0,367.9 276.1,360.2 276.2,362.5 276.3,370.7 276.4,363.4 276.5,372.9 276.6,366.9 276.7,378.1 276.8,367.0 276.9,358.1 277.0,359.1 277.1,369.6 277.2,364.2 277.3,368.8 277.4,363.7 277.5,366.9 277.6,356.7 277.7,357.0 277.8,358.4 277.9,349.7 278.0,345.3 278.1,343.5 278.2,342.5 278.3,343.1 278.4,346.1 278.5,348.0 278.6,354.9 278.7,359.1 278.8,352.5 278.9,363.2 279.0,368.8 279.1,360.0 279.2,376.9 279.3,366.1 279.4,372.9 279.5,361.9 279.6,365.1 279.7,369.1 279.8,367.4 279.9,364.1 280.0,357.8 280.1,373.9 280.2,367.1 280.3,374.2 280.4,371.2 280.5,366.7 280.6,369.3 280.7,368.9 280.8,360.8 280.9,373.9 281.0,370.5 281.1,369.4 281.2,373.0 281.3,366.9 281.4,365.2 281.5,367.8 281.6,374.3 281.7,361.5 281.9,373.3 282.0,371.2 282.1,372.2 282.2,369.0 282.3,361.7 282.4,371.7 282.5,370.9 282.6,382.5 282.7,367.6 282.8,374.3 282.9,367.1 283.0,370.8 283.1,374.9 283.2,371.5 283.3,366.6 283.4,374.6 283.5,368.4 283.6,373.9 283.7,368.7 283.8,374.3 283.9,368.3 284.0,370.0 284.1,363.7 284.2,366.7 284.3,371.0 284.4,370.1 284.5,373.6 284.6,373.7 284.7,368.9 284.8,376.7 284.9,365.4 285.0,364.3 285.1,368.5 285.2,367.6 285.3,368.1 285.4,371.2 285.5,363.6 285.6,378.4 285.7,379.1 285.8,370.6 285.9,367.4 286.0,370.7 286.1,369.5 286.2,375.5 286.3,373.1 286.4,369.7 286.5,373.4 286.6,372.9 286.7,369.6 286.8,372.0 286.9,374.7 287.0,375.6 287.1,372.4 287.2,366.6 287.3,376.0 287.4,366.8 287.5,366.6 287.6,369.9 287.7,370.3 287.8,379.5 287.9,369.8 288.0,369.2 288.1,377.1 288.2,369.5 288.3,371.3 288.4,373.3 288.5,376.0 288.6,380.8 288.7,374.2 288.8,365.8 288.9,376.0 289.0,376.2 289.1,365.9 289.2,370.5 289.3,375.0 289.4,371.9 289.5,367.2 289.6,367.2 289.7,384.3 289.8,366.8 289.9,370.0 290.0,375.1 290.1,371.4 290.2,382.9 290.3,372.9 290.4,380.3 290.5,368.2 290.6,363.9 290.7,373.6 290.8,374.9 290.9,372.1 291.0,370.4 291.1,377.4 291.2,373.1 291.3,367.1 291.4,375.9 291.5,370.2 291.6,368.9 291.7,380.9 291.8,383.0 291.9,373.4 292.0,370.9 292.1,374.6 292.2,380.1 292.3,365.2 292.4,369.6 292.5,366.7 292.6,381.2 292.7,374.3 292.8,370.3 292.9,371.7 293.0,379.0 293.1,370.9 293.2,376.7 293.3,378.7 293.4,370.6 293.5,377.3 293.6,372.7 293.7,378.1 293.8,372.7 293.9,373.1 294.0,377.8 294.1,368.1 294.2,372.0 294.3,375.8 294.4,383.5 294.5,372.9 294.6,377.5 294.7,377.8 294.8,373.8 294.9,376.0 295.0,378.8 295.1,376.6 295.2,387.6 295.3,373.1 295.4,369.2 295.5,377.8 295.6,368.3 295.7,378.8 295.8,373.7 295.9,365.5 296.1,375.2 296.2,381.7 296.3,371.0 296.4,373.1 296.5,374.1 296.6,380.1 296.7,371.2 296.8,371.9 296.9,368.9 297.0,371.7 297.1,373.5 297.2,369.5 297.3,379.2 297.4,379.3 297.5,378.8 297.6,382.7 297.7,377.9 297.8,384.3 297.9,377.4 298.0,376.1 298.1,371.0 298.2,381.9 298.3,372.2 298.4,377.7 298.5,372.2 298.6,372.0 298.7,382.3 298.8,373.8 298.9,382.2 299.0,374.2 299.1,378.9 299.2,369.5 299.3,369.2 299.4,382.5 299.5,378.1 299.6,372.5 299.7,372.2 299.8,374.5 299.9,381.5 300.0,389.2 300.1,378.5 300.2,374.0 300.3,377.9 300.4,383.7 300.5,375.1 300.6,375.2 300.7,378.2 300.8,378.9 300.9,388.1 301.0,372.6 301.1,376.2 301.2,381.0 301.3,380.5 301.4,386.4 301.5,371.2 301.6,372.1 301.7,380.4 301.8,377.5 301.9,371.8 302.0,383.5 302.1,376.0 302.2,378.4 302.3,375.6 302.4,370.8 302.5,379.9 302.6,387.3 302.7,375.8 302.8,378.3 302.9,380.6 303.0,372.5 303.1,377.4 303.2,382.3 303.3,371.1 303.4,375.3 303.5,383.3 303.6,371.8 303.7,371.0 303.8,374.7 303.9,379.0 304.0,381.8 304.1,375.1 304.2,391.8 304.3,374.5 304.4,370.8 304.5,378.0 304.6,382.7 304.7,376.0 304.8,378.3 304.9,376.4 305.0,371.3 305.1,378.1 305.2,371.4 305.3,378.1 305.4,378.3 305.5,383.6 305.6,371.2 305.7,377.4 305.8,373.2 305.9,383.3 306.0,375.9 306.1,377.0 306.2,380.1 306.3,381.0 306.4,387.4 306.5,379.5 306.6,388.5 306.7,383.4 306.8,383.8 306.9,380.4 307.0,376.5 307.1,388.3 307.2,379.5 307.3,390.2 307.4,380.8 307.5,377.9 307.6,371.9 307.7,369.9 307.8,374.0 307.9,373.4 308.0,383.8 308.1,375.2 308.2,384.9 308.3,366.4 308.4,381.4 308.5,378.2 308.6,373.2 308.7,377.9 308.8,381.0 308.9,376.2 309.0,377.1 309.1,386.1 309.2,381.5 309.3,379.9 309.4,376.7 309.5,378.4 309.6,384.4 309.7,380.6 309.8,381.0 309.9,380.7 310.0,375.7 310.1,385.7 310.2,376.1 310.4,380.2 310.5,385.3 310.6,375.0 310.7,385.8 310.8,381.8 310.9,383.5 311.0,375.1 311.1,377.4 311.2,390.7 311.3,384.5 311.4,374.7 311.5,383.0 311.6,379.3 311.7,385.1 311.8,380.2 311.9,377.0 312.0,376.3 312.1,376.6 312.2,379.6 312.3,383.0 312.4,381.9 312.5,373.4 312.6,385.0 312.7,372.9 312.8,375.7 312.9,378.8 313.0,382.9 313.1,376.3 313.2,386.6 313.3,382.8 313.4,378.1 313.5,382.3 313.6,381.1 313.7,374.6 313.8,370.8 313.9,383.5 314.0,393.0 314.1,384.6 314.2,388.5 314.3,388.4 314.4,381.8 314.5,385.8 314.6,377.6 314.7,383.0 314.8,381.2 314.9,380.3 315.0,376.0 315.1,383.8 315.2,368.2 315.3,383.2 315.4,379.0 315.5,385.1 315.6,378.8 315.7,378.0 315.8,380.6 315.9,379.2 316.0,384.5 316.1,379.3 316.2,381.0 316.3,386.5 316.4,382.3 316.5,391.8 316.6,381.3 316.7,389.5 316.8,381.1 316.9,383.1 317.0,381.1 317.1,377.0 317.2,384.5 317.3,378.5 317.4,378.3 317.5,378.4 317.6,386.9 317.7,385.5 317.8,375.3 317.9,381.5 318.0,379.0 318.1,382.5 318.2,378.2 318.3,373.2 318.4,380.6 318.5,381.8 318.6,386.5 318.7,374.1 318.8,391.0 318.9,386.4 319.0,380.4 319.1,376.0 319.2,386.8 319.3,383.6 319.4,384.9 319.5,376.2 319.6,377.5 319.7,384.8 319.8,379.3 319.9,388.7 320.0,369.4 320.1,384.5 320.2,381.4 320.3,390.6 320.4,389.0 320.5,386.8 320.6,388.2 320.7,375.9 320.8,382.4 320.9,385.3 321.0,384.6 321.1,387.9 321.2,377.9 321.3,385.5 321.4,387.0 321.5,393.3 321.6,390.2 321.7,375.3 321.8,381.8 321.9,379.6 322.0,381.8 322.1,386.4 322.2,378.4 322.3,383.8 322.4,385.7 322.5,387.2 322.6,385.4 322.7,380.1 322.8,383.9 322.9,381.7 323.0,393.3 323.1,390.4 323.2,378.8 323.3,383.9 323.4,387.2 323.5,381.0 323.6,388.5 323.7,379.5 323.8,386.1 323.9,377.9 324.0,379.9 324.1,383.6 324.2,378.0 324.3,390.1 324.4,387.8 324.6,381.0 324.7,385.0 324.8,393.2 324.9,383.5 325.0,380.8 325.1,380.4 325.2,386.5 325.3,380.8 325.4,385.9 325.5,378.5 325.6,389.1 325.7,386.3 325.8,388.5 325.9,386.1 326.0,385.0 326.1,384.8 326.2,384.0 326.3,381.0 326.4,382.6 326.5,393.4 326.6,380.2 326.7,382.7 326.8,384.3 326.9,376.1 327.0,380.9 327.1,382.9 327.2,383.3 327.3,380.4 327.4,379.9 327.5,381.7 327.6,383.0 327.7,391.7 327.8,392.4 327.9,380.6 328.0,384.4 328.1,389.0 328.2,379.6 328.3,376.8 328.4,389.9 328.5,379.7 328.6,388.6 328.7,389.2 328.8,387.6 328.9,388.6 329.0,381.6 329.1,393.3 329.2,389.9 329.3,387.8 329.4,384.5 329.5,393.1 329.6,380.0 329.7,384.7 329.8,385.0 329.9,377.1 330.0,380.1 330.1,376.0 330.2,372.9 330.3,373.0 330.4,371.8 330.5,371.5 330.6,372.0 330.7,374.0 330.8,375.2 330.9,376.0 331.0,378.0 331.1,381.0 331.2,377.8 331.3,382.1 331.4,379.4 331.5,380.9 331.6,390.1 331.7,386.7 331.8,390.4 331.9,386.8 332.0,383.8 332.1,386.8 332.2,379.0 332.3,387.9 332.4,394.7 332.5,384.7 332.6,391.6 332.7,387.8 332.8,386.9 332.9,389.5 333.0,391.8 333.1,377.8 333.2,388.1 333.3,382.1 333.4,387.5 333.5,383.9 333.6,384.9 333.7,384.6 333.8,387.0 333.9,386.5 334.0,383.8 334.1,382.7 334.2,393.8 334.3,376.3 334.4,387.9 334.5,378.8 334.6,381.1 334.7,382.4 334.8,381.2 334.9,382.6 335.0,379.3 335.1,389.9 335.2,386.6 335.3,389.4 335.4,389.3 335.5,380.2 335.6,386.7 335.7,386.0 335.8,382.8 335.9,393.8 336.0,387.9 336.1,388.5 336.2,382.8 336.3,383.6 336.4,386.9 336.5,385.9 336.6,386.5 336.7,385.8 336.8,393.1 336.9,388.3 337.0,386.3 337.1,387.0 337.2,389.0 337.3,388.1 337.4,385.1 337.5,383.8 337.6,383.6 337.7,388.1 337.8,390.4 337.9,387.2 338.0,391.8 338.1,386.3 338.2,387.6 338.3,388.5 338.4,382.7 338.5,389.4 338.6,395.0 338.8,392.3 338.9,386.0 339.0,394.6 339.1,383.1 339.2,386.5 339.3,387.1 339.4,388.3 339.5,384.5 339.6,395.5 339.7,398.4 339.8,389.7 339.9,393.8 340.0,376.5 340.1,392.3 340.2,385.7 340.3,395.1 340.4,386.4 340.5,385.7 340.6,385.3 340.7,385.2 340.8,388.1 340.9,382.4 341.0,396.2 341.1,392.8 341.2,389.7 341.3,388.3 341.4,394.5 341.5,392.1 341.6,387.0 341.7,388.4 341.8,389.6 341.9,395.8 342.0,386.3 342.1,391.1 342.2,394.3 342.3,383.8 342.4,385.0 342.5,390.8 342.6,391.7 342.7,389.8 342.8,390.5 342.9,391.1 343.0,390.2 343.1,384.8 343.2,391.4 343.3,394.1 343.4,393.3 343.5,390.2 343.6,384.4 343.7,390.9 343.8,392.9 343.9,387.7 344.0,387.5 344.1,399.4 344.2,385.0 344.3,392.8 344.4,390.2 344.5,392.8 344.6,386.9 344.7,384.5 344.8,390.5 344.9,378.3 345.0,385.1 345.1,381.7 345.2,384.9 345.3,388.6 345.4,390.9 345.5,388.8 345.6,389.0 345.7,387.7 345.8,388.2 345.9,391.8 346.0,386.9 346.1,394.6 346.2,387.5 346.3,391.7 346.4,384.4 346.5,386.2 346.6,389.5 346.7,392.2 346.8,397.5 346.9,391.5 347.0,392.6 347.1,395.3 347.2,387.2 347.3,389.5 347.4,390.5 347.5,392.6 347.6,394.5 347.7,388.0 347.8,391.1 347.9,395.5 348.0,389.1 348.1,389.3 348.2,391.4 348.3,379.2 348.4,385.2 348.5,397.7 348.6,389.6 348.7,386.6 348.8,383.9 348.9,390.0 349.0,391.6 349.1,394.9 349.2,385.4 349.3,386.8 349.4,387.6 349.5,386.4 349.6,392.1 349.7,387.4 349.8,387.6 349.9,389.0 350.0,390.0 350.1,395.2 350.2,387.3 350.3,388.1 350.4,392.5 350.5,388.4 350.6,394.5 350.7,393.9 350.8,392.2 350.9,388.3 351.0,385.2 351.1,389.9 351.2,380.1 351.3,388.0 351.4,392.2 351.5,385.8 351.6,392.1 351.7,380.3 351.8,385.4 351.9,393.4 352.0,386.8 352.1,384.4 352.2,396.8 352.3,393.9 352.4,386.2 352.5,398.2 352.6,394.5 352.7,390.3 352.8,393.0 352.9,388.8 353.1,394.5 353.2,392.0 353.3,395.0 353.4,385.9 353.5,389.0 353.6,389.8 353.7,392.4 353.8,398.8 353.9,390.5 354.0,389.4 354.1,391.2 354.2,394.7 354.3,390.3 354.4,389.9 354.5,393.8 354.6,383.6 354.7,386.2 354.8,390.1 354.9,395.7 355.0,394.0 355.1,394.6 355.2,394.2 355.3,391.8 355.4,391.2 355.5,397.7 355.6,383.0 355.7,391.6 355.8,393.2 355.9,390.8 356.0,393.1 356.1,393.1 356.2,389.1 356.3,396.6 356.4,387.7 356.5,390.0 356.6,386.5 356.7,385.2 356.8,386.8 356.9,394.9 357.0,385.0 357.1,395.2 357.2,390.4 357.3,385.3 357.4,387.9 357.5,386.6 357.6,389.0 357.7,386.0 357.8,392.0 357.9,384.1 358.0,386.0 358.1,390.9 358.2,398.5 358.3,388.4 358.4,389.1 358.5,391.1 358.6,387.9 358.7,392.7 358.8,395.0 358.9,392.4 359.0,390.2 359.1,391.6 359.2,395.1 359.3,386.1 359.4,398.7 359.5,389.8 359.6,387.9 359.7,395.9 359.8,390.8 359.9,384.9 360.0,397.2 360.1,387.5 360.2,392.4 360.3,395.5 360.4,389.2 360.5,393.0 360.6,386.2 360.7,394.8 360.8,387.2 360.9,392.0 361.0,392.5 361.1,390.7 361.2,394.8 361.3,392.0 361.4,393.6 361.5,388.9 361.6,396.0 361.7,385.6 361.8,390.6 361.9,390.8 362.0,388.6 362.1,386.1 362.2,387.9 362.3,393.8 362.4,393.4 362.5,391.8 362.6,402.7 362.7,394.1 362.8,396.3 362.9,395.7 363.0,387.6 363.1,385.6 363.2,392.9 363.3,386.7 363.4,391.7 363.5,393.6 363.6,396.8 363.7,395.8 363.8,391.5 363.9,394.2 364.0,388.3 364.1,392.3 364.2,393.7 364.3,390.3 364.4,391.0 364.5,392.9 364.6,391.1 364.7,390.8 364.8,386.4 364.9,383.6 365.0,389.3 365.1,381.3 365.2,381.9 365.3,381.6 365.4,381.5 365.5,381.4 365.6,383.2 365.7,382.5 365.8,386.7 365.9,389.2 366.0,390.2 366.1,386.4 366.2,391.8 366.3,389.6 366.4,392.8 366.5,393.7 366.6,393.4 366.7,394.1 366.8,397.8 366.9,395.0 367.0,390.7 367.1,390.4 367.3,394.7 367.4,393.0 367.5,388.3 367.6,394.1 367.7,393.9 367.8,387.7 367.9,393.0 368.0,393.1 368.1,396.9 368.2,396.1 368.3,394.8 368.4,394.3 368.5,394.0 368.6,393.5 368.7,397.7 368.8,401.1 368.9,396.1 369.0,393.7 369.1,392.0 369.2,395.3 369.3,397.4 369.4,393.6 369.5,393.5 369.6,392.4 369.7,386.5 369.8,392.4 369.9,396.7 370.0,386.2 370.1,395.6 370.2,394.9 370.3,388.9 370.4,392.7 370.5,395.6 370.6,402.3 370.7,393.2 370.8,392.3 370.9,401.6 371.0,389.4 371.1,393.6 371.2,395.3 371.3,388.8 371.4,396.0 371.5,386.2 371.6,391.0 371.7,389.5 371.8,390.5 371.9,396.5 372.0,395.2 372.1,392.2 372.2,390.1 372.3,391.8 372.4,393.8 372.5,392.1 372.6,390.9 372.7,394.5 372.8,393.2 372.9,393.7 373.0,395.0 373.1,397.2 373.2,393.4 373.3,395.3 373.4,391.8 373.5,393.8 373.6,395.8 373.7,390.7 373.8,393.1 373.9,393.1 374.0,390.2 374.1,392.7 374.2,400.5 374.3,390.5 374.4,393.6 374.5,393.9 374.6,393.2 374.7,393.3 374.8,396.8 374.9,397.9 375.0,400.1 375.1,390.4 375.2,397.4 375.3,394.1 375.4,399.1 375.5,391.5 375.6,398.4 375.7,387.5 375.8,392.9 375.9,393.8 376.0,396.5 376.1,390.2 376.2,392.3 376.3,395.0 376.4,393.0 376.5,397.7 376.6,401.2 376.7,390.9 376.8,395.6 376.9,388.6 377.0,393.0 377.1,396.4 377.2,400.1 377.3,388.9 377.4,393.2 377.5,392.9 377.6,388.2 377.7,393.2 377.8,389.9 377.9,398.3 378.0,391.4 378.1,394.2 378.2,393.4 378.3,397.7 378.4,390.1 378.5,395.6 378.6,399.6 378.7,393.5 378.8,399.2 378.9,401.4 379.0,395.0 379.1,393.4 379.2,396.7 379.3,398.1 379.4,384.5 379.5,398.6 379.6,394.1 379.7,395.2 379.8,391.2 379.9,393.1 380.0,389.1 380.1,392.4 380.2,391.4 380.3,394.8 380.4,393.6 380.5,393.0 380.6,402.4 380.7,397.3 380.8,389.6 380.9,398.1 381.0,397.6 381.1,389.0 381.2,398.6 381.3,400.3 381.4,397.1 381.6,393.2 381.7,391.1 381.8,396.5 381.9,399.5 382.0,397.1 382.1,393.3 382.2,398.0 382.3,400.4 382.4,397.0 382.5,390.5 382.6,396.3 382.7,396.9 382.8,394.0 382.9,396.0 383.0,397.2 383.1,395.2 383.2,394.7 383.3,395.5 383.4,389.6 383.5,400.8 383.6,397.8 383.7,396.1 383.8,399.4 383.9,395.7 384.0,390.0 384.1,386.5 384.2,393.1 384.3,384.5 384.4,401.5 384.5,402.8 384.6,398.1 384.7,384.9 384.8,395.4 384.9,388.7 385.0,392.6 385.1,396.7 385.2,393.1 385.3,395.8 385.4,392.8 385.5,399.2 385.6,395.5 385.7,389.9 385.8,389.2 385.9,394.0 386.0,380.4 386.1,395.5 386.2,398.6 386.3,396.2 386.4,390.7 386.5,401.2 386.6,396.3 386.7,395.0 386.8,394.3 386.9,398.8 387.0,397.8 387.1,392.7 387.2,392.8 387.3,395.9 387.4,394.9 387.5,395.7 387.6,392.8 387.7,397.4 387.8,391.9 387.9,394.2 388.0,397.1 388.1,398.1 388.2,394.5 388.3,398.5 388.4,392.1 388.5,398.8 388.6,395.5 388.7,395.1 388.8,394.1 388.9,393.7 389.0,393.5 389.1,395.5 389.2,395.5 389.3,402.0 389.4,389.9 389.5,392.9 389.6,403.8 389.7,391.0 389.8,397.1 389.9,393.3 390.0,396.5 390.1,392.6 390.2,394.5 390.3,388.7 390.4,391.4 390.5,395.4 390.6,394.6 390.7,399.6 390.8,391.1 390.9,396.7 391.0,393.5 391.1,395.7 391.2,397.7 391.3,393.2 391.4,392.4 391.5,392.6 391.6,393.9 391.7,393.3 391.8,392.7 391.9,392.4 392.0,394.1 392.1,389.5 392.2,394.4 392.3,395.6 392.4,394.8 392.5,389.4 392.6,388.2 392.7,395.3 392.8,392.9 392.9,398.1 393.0,393.5 393.1,393.7 393.2,393.6 393.3,397.6 393.4,391.9 393.5,397.4 393.6,393.8 393.7,395.3 393.8,396.9 393.9,393.8 394.0,396.7 394.1,395.6 394.2,388.1 394.3,397.7 394.4,395.0 394.5,396.2 394.6,395.2 394.7,392.8 394.8,390.8 394.9,388.7 395.0,390.5 395.1,386.5 395.2,388.0 395.3,385.4 395.4,384.9 395.5,385.6 395.6,385.7 395.8,386.5 395.9,389.1 396.0,389.4 396.1,394.0 396.2,391.9 396.3,394.4 396.4,397.6 396.5,396.4 396.6,396.3 396.7,391.0 396.8,389.9 396.9,394.8 397.0,399.8 397.1,390.1 397.2,398.9 397.3,394.1 397.4,394.1 397.5,398.9 397.6,393.0 397.7,394.9 397.8,388.3 397.9,390.2 398.0,389.0 398.1,398.3 398.2,393.8 398.3,401.2 398.4,392.3 398.5,393.1 398.6,400.1 398.7,398.3 398.8,397.0 398.9,398.2 399.0,398.8 399.1,396.2 399.2,393.2 399.3,394.4 399.4,395.1 399.5,395.0 399.6,398.2 399.7,392.5 399.8,393.5 399.9,394.2 400.0,393.4 400.1,402.3 400.2,393.9 400.3,397.9 400.4,395.6 400.5,405.2 400.6,396.9 400.7,391.3 400.8,392.4 400.9,394.5 401.0,397.8 401.1,392.0 401.2,393.4 401.3,393.8 401.4,401.1 401.5,397.4 401.6,397.7 401.7,387.2 401.8,394.0 401.9,398.5 402.0,393.0 402.1,391.5 402.2,397.8 402.3,397.4 402.4,397.5 402.5,397.6 402.6,400.3 402.7,390.5 402.8,395.1 402.9,392.9 403.0,399.2 403.1,395.8 403.2,391.5 403.3,400.0 403.4,396.5 403.5,399.2 403.6,391.7 403.7,396.9 403.8,396.9 403.9,391.9 404.0,393.3 404.1,389.0 404.2,394.7 404.3,391.7 404.4,396.1 404.5,395.6 404.6,395.1 404.7,397.7 404.8,396.9 404.9,398.0 405.0,394.3 405.1,396.0 405.2,395.2 405.3,391.7 405.4,401.8 405.5,392.5 405.6,391.2 405.7,394.9 405.8,389.3 405.9,394.6 406.0,392.6 406.1,401.9 406.2,395.6 406.3,392.6 406.4,390.5 406.5,393.5 406.6,395.0 406.7,397.7 406.8,400.6 406.9,395.1 407.0,391.2 407.1,395.9 407.2,395.9 407.3,396.7 407.4,393.7 407.5,399.6 407.6,397.5 407.7,402.4 407.8,396.5 407.9,394.1 408.0,397.4 408.1,391.7 408.2,397.8 408.3,395.0 408.4,391.8 408.5,402.3 408.6,395.8 408.7,391.9 408.8,395.4 408.9,404.2 409.0,393.4 409.1,397.8 409.2,397.0 409.3,399.9 409.4,400.0 409.5,393.5 409.6,395.2 409.7,398.6 409.8,392.4 409.9,393.6 410.1,401.1 410.2,401.1 410.3,395.2 410.4,395.9 410.5,393.2 410.6,400.0 410.7,394.6 410.8,394.9 410.9,394.7 411.0,397.4 411.1,394.2 411.2,392.5 411.3,392.3 411.4,396.2 411.5,391.2 411.6,389.5 411.7,394.4 411.8,395.2 411.9,395.1 412.0,393.7 412.1,395.1 412.2,401.6 412.3,395.4 412.4,398.9 412.5,396.5 412.6,397.3 412.7,397.5 412.8,391.6 412.9,395.4 413.0,397.9 413.1,398.0 413.2,393.1 413.3,403.5 413.4,402.3 413.5,396.2 413.6,390.6 413.7,394.7 413.8,399.7 413.9,395.7 414.0,393.7 414.1,400.9 414.2,399.5 414.3,397.0 414.4,393.0 414.5,399.1 414.6,395.6 414.7,393.1 414.8,398.8 414.9,398.7 415.0,401.5 415.1,400.0 415.2,398.4 415.3,400.2 415.4,410.9 415.5,401.6 415.6,398.8 415.7,396.8 415.8,393.6 415.9,391.3 416.0,392.4 416.1,394.5 416.2,397.2 416.3,398.9 416.4,395.8 416.5,399.4 416.6,393.2 416.7,397.1 416.8,395.3 416.9,400.9 417.0,395.5 417.1,397.8 417.2,402.5 417.3,403.1 417.4,395.9 417.5,397.8 417.6,399.3 417.7,401.0 417.8,401.2 417.9,395.8 418.0,400.8 418.1,399.9 418.2,400.5 418.3,396.1 418.4,393.5 418.5,387.5 418.6,397.3 418.7,394.6 418.8,399.8 418.9,393.9 419.0,398.1 419.1,398.6 419.2,400.5 419.3,396.7 419.4,399.0 419.5,400.2 419.6,394.2 419.7,402.8 419.8,395.0 419.9,392.8 420.0,398.3 420.1,391.0 420.2,393.8 420.3,394.1 420.4,389.0 420.5,390.8 420.6,386.0 420.7,384.8 420.8,383.9 420.9,385.6 421.0,386.0 421.1,391.5 421.2,390.9 421.3,395.2 421.4,393.4 421.5,402.1 421.6,388.2 421.7,396.9 421.8,397.1 421.9,391.9 422.0,397.5 422.1,398.3 422.2,396.2 422.3,395.0 422.4,397.7 422.5,395.8 422.6,397.2 422.7,396.8 422.8,398.8 422.9,399.1 423.0,396.7 423.1,399.1 423.2,390.9 423.3,396.1 423.4,395.6 423.5,396.6 423.6,395.4 423.7,397.0 423.8,394.6 423.9,391.4 424.0,395.6 424.1,402.3 424.3,396.1 424.4,394.4 424.5,392.7 424.6,397.0 424.7,400.3 424.8,393.3 424.9,398.6 425.0,398.1 425.1,389.3 425.2,395.4 425.3,394.4 425.4,395.7 425.5,399.4 425.6,398.3 425.7,398.1 425.8,396.4 425.9,398.5 426.0,398.7 426.1,395.8 426.2,393.5 426.3,395.6 426.4,398.1 426.5,391.7 426.6,396.1 426.7,394.1 426.8,393.9 426.9,400.0 427.0,396.1 427.1,395.1 427.2,395.0 427.3,393.0 427.4,399.9 427.5,402.1 427.6,403.0 427.7,389.4 427.8,395.4 427.9,397.4 428.0,396.8 428.1,390.9 428.2,398.0 428.3,399.1 428.4,395.7 428.5,397.7 428.6,397.4 428.7,399.4 428.8,403.5 428.9,404.4 429.0,396.2 429.1,394.8 429.2,400.3 429.3,397.1 429.4,395.6 429.5,396.5 429.6,397.1 429.7,397.2 429.8,397.3 429.9,394.6 430.0,396.7 430.1,391.1 430.2,390.5 430.3,398.4 430.4,399.6 430.5,395.9 430.6,398.5 430.7,400.2 430.8,403.5 430.9,395.2 431.0,397.9 431.1,395.6 431.2,396.9 431.3,397.5 431.4,400.6 431.5,394.4 431.6,393.3 431.7,398.5 431.8,395.5 431.9,403.6 432.0,397.7 432.1,398.0 432.2,394.7 432.3,391.9 432.4,396.4 432.5,397.6 432.6,397.6 432.7,398.8 432.8,393.4 432.9,399.3 433.0,397.6 433.1,390.5 433.2,398.5 433.3,395.8 433.4,392.5 433.5,397.9 433.6,403.3 433.7,397.2 433.8,393.3 433.9,389.1 434.0,394.9 434.1,393.3 434.2,400.7 434.3,398.7 434.4,394.6 434.5,395.4 434.6,395.1 434.7,400.2 434.8,399.5 434.9,395.8 435.0,398.4 435.1,395.1 435.2,401.4 435.3,401.0 435.4,399.0 435.5,406.0 435.6,397.2 435.7,401.5 435.8,400.5 435.9,395.3 436.0,394.7 436.1,401.0 436.2,393.8 436.3,397.5 436.4,390.6 436.5,392.0 436.6,397.7 436.7,393.1 436.8,392.2 436.9,396.2 437.0,393.0 437.1,393.1 437.2,395.5 437.3,392.6 437.4,393.3 437.5,398.6 437.6,397.5 437.7,393.0 437.8,396.6 437.9,392.7 438.0,401.0 438.1,390.9 438.2,399.0 438.3,397.7 438.4,396.8 438.6,396.2 438.7,400.3 438.8,398.0 438.9,395.9 439.0,395.3 439.1,394.1 439.2,400.0 439.3,393.3 439.4,392.3 439.5,397.0 439.6,390.2 439.7,397.2 439.8,400.2 439.9,400.0 440.0,398.2 440.1,397.4 440.2,399.2 440.3,396.2 440.4,396.1 440.5,394.9 440.6,400.1 440.7,388.5 440.8,397.5 440.9,399.0 441.0,399.4 441.1,397.2 441.2,397.9 441.3,395.5 441.4,402.9 441.5,401.1 441.6,391.9 441.7,397.7 441.8,400.2 441.9,399.1 442.0,396.8 442.1,395.6 442.2,392.3 442.3,399.2 442.4,397.5 442.5,400.0 442.6,397.5 442.7,393.2 442.8,394.0 442.9,397.1 443.0,392.4 443.1,397.4 443.2,401.5 443.3,402.4 443.4,402.7 443.5,392.3 443.6,396.8 443.7,399.2 443.8,390.5 443.9,397.4 444.0,399.2 444.1,393.9 444.2,394.3 444.3,394.4 444.4,391.9 444.5,396.0 444.6,398.6 444.7,401.0 444.8,386.8 444.9,389.7 445.0,394.9 445.1,394.6 445.2,394.5 445.3,392.3 445.4,395.4 445.5,401.8 445.6,394.6 445.7,397.8 445.8,397.4 445.9,401.3 446.0,395.4 446.1,396.1 446.2,399.4 446.3,398.8 446.4,399.0 446.5,404.1 446.6,399.0 446.7,400.0 446.8,390.1 446.9,396.2 447.0,398.5 447.1,397.6 447.2,399.1 447.3,399.9 447.4,400.2 447.5,393.7 447.6,400.7 447.7,396.3 447.8,394.3 447.9,396.5 448.0,396.0 448.1,396.2 448.2,402.8 448.3,400.0 448.4,395.0 448.5,397.9 448.6,399.0 448.7,394.3 448.8,401.4 448.9,395.2 449.0,389.1 449.1,401.7 449.2,396.8 449.3,396.1 449.4,400.7 449.5,394.4 449.6,396.2 449.7,395.6 449.8,397.4 449.9,402.1 450.0,396.9 450.1,389.8 450.2,390.5 450.3,399.2 450.4,400.6 450.5,394.3 450.6,397.1 450.7,403.0 450.8,395.9 450.9,391.8 451.0,395.6 451.1,405.4 451.2,394.8 451.3,396.8 451.4,396.4 451.5,400.6 451.6,397.6 451.7,397.0 451.8,400.8 451.9,393.4 452.0,393.7 452.1,394.4 452.2,396.4 452.3,394.9 452.4,396.3 452.5,396.5 452.6,397.4 452.8,399.0 452.9,395.3 453.0,398.2 453.1,393.0 453.2,403.1 453.3,388.0 453.4,391.1 453.5,398.5 453.6,396.2 453.7,395.5 453.8,398.7 453.9,395.2 454.0,398.1 454.1,400.2 454.2,397.1 454.3,396.8 454.4,399.0 454.5,396.0 454.6,397.0 454.7,393.1 454.8,399.7 454.9,394.1 455.0,401.5 455.1,390.5 455.2,409.0 455.3,401.0 455.4,391.3 455.5,397.3 455.6,397.8 455.7,397.6 455.8,391.5 455.9,393.1 456.0,406.3 456.1,404.0 456.2,398.1 456.3,397.2 456.4,402.4 456.5,397.9 456.6,396.1 456.7,396.5 456.8,401.5 456.9,392.5 457.0,402.6 457.1,396.2 457.2,397.9 457.3,395.3 457.4,392.9 457.5,396.6 457.6,401.9 457.7,398.2 457.8,399.6 457.9,398.6 458.0,396.3 458.1,394.8 458.2,402.6 458.3,400.7 458.4,395.3 458.5,399.4 458.6,399.5 458.7,398.8 458.8,398.3 458.9,400.4 459.0,399.3 459.1,396.7 459.2,399.9 459.3,399.9 459.4,396.4 459.5,406.1 459.6,397.9 459.7,394.8 459.8,401.4 459.9,399.0 460.0,398.7 460.1,397.3 460.2,399.3 460.3,396.9 460.4,394.3 460.5,396.6 460.6,394.7 460.7,400.8 460.8,401.1 460.9,398.3 461.0,395.7 461.1,403.8 461.2,397.2 461.3,390.8 461.4,396.2 461.5,399.1 461.6,400.6 461.7,401.0 461.8,398.1 461.9,402.4 462.0,397.6 462.1,396.5 462.2,400.7 462.3,398.4 462.4,402.1 462.5,402.8 462.6,403.3 462.7,401.3 462.8,398.6 462.9,399.6 463.0,396.4 463.1,400.5 463.2,401.0 463.3,400.9 463.4,398.0 463.5,400.2 463.6,402.7 463.7,400.9 463.8,399.9 463.9,398.4 464.0,398.4 464.1,397.7 464.2,406.8 464.3,400.6 464.4,400.5 464.5,400.4 464.6,402.4 464.7,397.0 464.8,401.4 464.9,399.7 465.0,401.8 465.1,400.0 465.2,401.2 465.3,402.5 465.4,399.9 465.5,395.7 465.6,395.1 465.7,395.9 465.8,399.2 465.9,393.8 466.0,398.8 466.1,400.0 466.2,401.5 466.3,411.2 466.4,391.7 466.5,396.5 466.6,397.6 466.7,401.1 466.8,398.2 467.0,394.2 467.1,396.8 467.2,395.5 467.3,400.7 467.4,394.8 467.5,401.7 467.6,395.5 467.7,401.9 467.8,403.0 467.9,399.6 468.0,393.9 468.1,399.8 468.2,397.5 468.3,398.2 468.4,399.9 468.5,400.5 468.6,397.8 468.7,404.8 468.8,398.5 468.9,409.3 469.0,403.2 469.1,403.2 469.2,399.6 469.3,405.6 469.4,401.0 469.5,402.7 469.6,399.5 469.7,396.8 469.8,404.0 469.9,404.3 470.0,399.1 470.1,402.8 470.2,396.2 470.3,404.3 470.4,402.6 470.5,403.5 470.6,409.7 470.7,399.1 470.8,401.1 470.9,408.1 471.0,401.2 471.1,403.8 471.2,407.6 471.3,402.2 471.4,395.9 471.5,401.1 471.6,404.4 471.7,396.1 471.8,395.2 471.9,398.9 472.0,403.9 472.1,406.2 472.2,400.6 472.3,404.0 472.4,398.9 472.5,407.2 472.6,400.2 472.7,400.1 472.8,401.4 472.9,402.7 473.0,399.0 473.1,401.5 473.2,399.2 473.3,400.3 473.4,398.6 473.5,401.3 473.6,405.1 473.7,402.8 473.8,407.8 473.9,406.5 474.0,397.6 474.1,404.9 474.2,397.5 474.3,406.1 474.4,407.3 474.5,403.8 474.6,404.1 474.7,399.4 474.8,405.0 474.9,404.4 475.0,402.9 475.1,404.0 475.2,405.8 475.3,403.2 475.4,403.4 475.5,399.7 475.6,405.9 475.7,398.8 475.8,403.1 475.9,406.1 476.0,400.6 476.1,399.5 476.2,397.2 476.3,398.8 476.4,406.7 476.5,398.4 476.6,401.8 476.7,401.1 476.8,399.5 476.9,407.0 477.0,399.8 477.1,407.5 477.2,406.9 477.3,404.0 477.4,401.4 477.5,404.3 477.6,402.7 477.7,406.3 477.8,404.3 477.9,400.0 478.0,401.8 478.1,403.8 478.2,402.0 478.3,406.9 478.4,400.2 478.5,402.3 478.6,397.6 478.7,406.9 478.8,400.4 478.9,401.3 479.0,404.7 479.1,400.5 479.2,398.0 479.3,396.4 479.4,406.5 479.5,406.9 479.6,399.0 479.7,401.1 479.8,398.6 479.9,404.5 480.0,407.5 480.1,404.7 480.2,398.1 480.3,404.0 480.4,400.8 480.5,403.6 480.6,403.6 480.7,398.1 480.8,410.8 480.9,399.1 481.0,406.5 481.1,403.0 481.3,404.5 481.4,404.5 481.5,406.2 481.6,411.2 481.7,407.6 481.8,396.9 481.9,405.3 482.0,407.2 482.1,407.4 482.2,405.3 482.3,407.0 482.4,403.6 482.5,407.4 482.6,406.7 482.7,402.4 482.8,400.3 482.9,405.2 483.0,401.8 483.1,404.5 483.2,405.4 483.3,406.4 483.4,405.3 483.5,407.5 483.6,403.8 483.7,406.4 483.8,413.2 483.9,403.8 484.0,402.8 484.1,407.9 484.2,403.3 484.3,401.9 484.4,402.7 484.5,402.8 484.6,404.4 484.7,406.3 484.8,404.3 484.9,400.7 485.0,404.9 485.1,405.2 485.2,406.8 485.3,405.0 485.4,399.1 485.5,403.9 485.6,406.0 485.7,405.7 485.8,401.1 485.9,403.0 486.0,410.0 486.1,402.7 486.2,404.1 486.3,401.7 486.4,405.4 486.5,405.4 486.6,408.4 486.7,404.7 486.8,404.4 486.9,404.1 487.0,408.3 487.1,406.8 487.2,401.1 487.3,399.3 487.4,407.2 487.5,404.2 487.6,405.3 487.7,407.2 487.8,411.1 487.9,409.0 488.0,404.3 488.1,400.2 488.2,401.1 488.3,406.1 488.4,405.8 488.5,407.9 488.6,404.8 488.7,406.0 488.8,403.2 488.9,403.1 489.0,403.8 489.1,410.3 489.2,406.8 489.3,407.4 489.4,397.3 489.5,406.2 489.6,404.2 489.7,409.3 489.8,409.9 489.9,394.6 490.0,405.4 490.1,402.7 490.2,406.1 490.3,412.1 490.4,404.6 490.5,405.1 490.6,409.1 490.7,405.7 490.8,400.6 490.9,410.2 491.0,405.3 491.1,403.4 491.2,401.5 491.3,408.8 491.4,411.8 491.5,408.5 491.6,404.5 491.7,407.7 491.8,404.6 491.9,404.6 492.0,406.8 492.1,404.8 492.2,409.8 492.3,403.1 492.4,407.4 492.5,402.1 492.6,400.5 492.7,409.7 492.8,403.6 492.9,405.2 493.0,405.8 493.1,406.7 493.2,407.4 493.3,404.3 493.4,406.7 493.5,408.8 493.6,401.1 493.7,407.0 493.8,407.1 493.9,401.9 494.0,404.1 494.1,410.2 494.2,407.3 494.3,405.7 494.4,405.2 494.5,406.8 494.6,401.1 494.7,400.1 494.8,402.2 494.9,405.0 495.0,402.7 495.1,405.9 495.2,401.7 495.3,410.3 495.5,406.8 495.6,405.8 495.7,396.2 495.8,409.2 495.9,409.7 496.0,413.6 496.1,403.4 496.2,402.9 496.3,403.6 496.4,409.6 496.5,402.4 496.6,404.3 496.7,402.0 496.8,412.6 496.9,405.8 497.0,403.3 497.1,405.3 497.2,404.5 497.3,399.7 497.4,407.7 497.5,405.5 497.6,403.2 497.7,401.0 497.8,403.6 497.9,403.8 498.0,406.6 498.1,413.6 498.2,407.9 498.3,403.3 498.4,400.6 498.5,403.1 498.6,403.9 498.7,402.6 498.8,408.2 498.9,411.3 499.0,401.2 499.1,409.6 499.2,405.5 499.3,407.3 499.4,399.0 499.5,404.9 499.6,404.3 499.7,404.7 499.8,403.9 499.9,401.7 500.0,406.1 500.1,403.0 500.2,405.2 500.3,409.4 500.4,411.4 500.5,406.3 500.6,407.0 500.7,408.7 500.8,402.2 500.9,405.1 501.0,406.4 501.1,407.3 501.2,410.0 501.3,411.1 501.4,404.7 501.5,404.2 501.6,397.7 501.7,405.7 501.8,404.6 501.9,405.5 502.0,401.2 502.1,405.1 502.2,410.2 502.3,409.2 502.4,405.0 502.5,406.0 502.6,400.1 502.7,409.0 502.8,400.9 502.9,402.3 503.0,402.1 503.1,407.8 503.2,404.2 503.3,406.4 503.4,411.3 503.5,407.4 503.6,401.6 503.7,405.9 503.8,403.5 503.9,404.0 504.0,401.3 504.1,406.7 504.2,403.6 504.3,403.9 504.4,400.4 504.5,404.3 504.6,397.2 504.7,396.4 504.8,394.2 504.9,394.7 505.0,394.3 505.1,394.5 505.2,396.3 505.3,398.8 505.4,398.9 505.5,404.4 505.6,405.3 505.7,403.4 505.8,401.0 505.9,406.3 506.0,408.1 506.1,404.1 506.2,408.5 506.3,406.7 506.4,406.1 506.5,406.1 506.6,406.2 506.7,406.2 506.8,411.4 506.9,407.6 507.0,407.2 507.1,411.7 507.2,404.6 507.3,405.8 507.4,409.5 507.5,408.1 507.6,400.6 507.7,407.3 507.8,405.7 507.9,409.3 508.0,409.1 508.1,407.8 508.2,401.1 508.3,403.9 508.4,408.2 508.5,405.9 508.6,411.1 508.7,410.5 508.8,405.8 508.9,407.3 509.0,407.4 509.1,406.1 509.2,405.0 509.3,413.8 509.4,403.9 509.5,408.1 509.6,405.0 509.8,403.3 509.9,410.2 510.0,405.9 510.1,415.8 510.2,407.1 510.3,413.2 510.4,406.1 510.5,406.4 510.6,407.6 510.7,412.2 510.8,404.3 510.9,405.3 511.0,406.7 511.1,405.1 511.2,407.9 511.3,406.5 511.4,404.5 511.5,406.9 511.6,404.3 511.7,410.7 511.8,406.9 511.9,407.6 512.0,406.7 512.1,412.9 512.2,407.9 512.3,406.2 512.4,403.6 512.5,411.9 512.6,401.3 512.7,409.8 512.8,409.0 512.9,405.5 513.0,408.0 513.1,410.5 513.2,408.9 513.3,411.3 513.4,403.7 513.5,406.1 513.6,410.1 513.7,406.4 513.8,407.9 513.9,414.7 514.0,413.4 514.1,409.8 514.2,407.3 514.3,407.5 514.4,413.3 514.5,412.3 514.6,406.3 514.7,410.5 514.8,407.3 514.9,405.8 515.0,406.7 515.1,410.7 515.2,409.1 515.3,405.3 515.4,411.7 515.5,408.2 515.6,406.5 515.7,408.9 515.8,411.0 515.9,405.8 516.0,405.0 516.1,408.7 516.2,408.7 516.3,413.3 516.4,408.1 516.5,411.8 516.6,408.0 516.7,410.5 516.8,408.2 516.9,407.9 517.0,412.7 517.1,395.4 517.2,409.9 517.3,411.4 517.4,409.6 517.5,407.0 517.6,410.5 517.7,406.7 517.8,409.2 517.9,413.0 518.0,409.0 518.1,401.6 518.2,407.1 518.3,409.5 518.4,408.8 518.5,407.9 518.6,416.6 518.7,413.1 518.8,409.4 518.9,407.1 519.0,411.5 519.1,404.4 519.2,408.2 519.3,408.0 519.4,410.8 519.5,412.4 519.6,409.9 519.7,415.1 519.8,412.7 519.9,407.7 520.0,407.1 520.1,412.4 520.2,407.2 520.3,408.8 520.4,411.1 520.5,409.6 520.6,404.9 520.7,411.5 520.8,409.7 520.9,406.2 521.0,410.2 521.1,407.8 521.2,414.2 521.3,403.0 521.4,406.5 521.5,411.3 521.6,410.0 521.7,411.9 521.8,408.2 521.9,410.1 522.0,412.7 522.1,414.4 522.2,411.9 522.3,410.3 522.4,414.5 522.5,409.7 522.6,410.1 522.7,410.7 522.8,410.6 522.9,409.9 523.0,410.0 523.1,412.7 523.2,410.0 523.3,412.6 523.4,411.4 523.5,414.2 523.6,406.2 523.7,406.7 523.8,416.8 524.0,412.6 524.1,412.7 524.2,407.5 524.3,406.6 524.4,405.3 524.5,406.3 524.6,407.3 524.7,408.9 524.8,407.7 524.9,405.3 525.0,417.2 525.1,411.0 525.2,415.4 525.3,401.8 525.4,410.5 525.5,412.6 525.6,414.2 525.7,414.6 525.8,410.3 525.9,413.7 526.0,413.5 526.1,413.2 526.2,412.5 526.3,414.5 526.4,410.8 526.5,408.0 526.6,408.9 526.7,412.8 526.8,410.3 526.9,409.7 527.0,413.9 527.1,410.7 527.2,404.3 527.3,409.7 527.4,413.8 527.5,411.7 527.6,416.8 527.7,414.5 527.8,406.1 527.9,411.6 528.0,413.1 528.1,413.7 528.2,412.2 528.3,408.9 528.4,408.1 528.5,409.0 528.6,416.2 528.7,412.0 528.8,413.2 528.9,413.0 529.0,407.8 529.1,407.6 529.2,408.3 529.3,412.9 529.4,412.2 529.5,407.3 529.6,413.6 529.7,409.9 529.8,410.6 529.9,410.2 530.0,408.6 530.1,410.9 530.2,411.8 530.3,405.5 530.4,409.2 530.5,408.0 530.6,408.6 530.7,408.8 530.8,415.1 530.9,411.0 531.0,413.7 531.1,415.0 531.2,410.4 531.3,405.8 531.4,414.8 531.5,410.9 531.6,415.2 531.7,415.1 531.8,413.2 531.9,406.8 532.0,405.7 532.1,413.0 532.2,412.9 532.3,409.4 532.4,412.4 532.5,410.2 532.6,412.6 532.7,411.0 532.8,409.8 532.9,410.8 533.0,405.0 533.1,407.4 533.2,414.4 533.3,409.3 533.4,414.7 533.5,414.6 533.6,414.3 533.7,411.1 533.8,414.1 533.9,411.7 534.0,412.4 534.1,412.5 534.2,411.3 534.3,415.3 534.4,412.7 534.5,410.1 534.6,415.4 534.7,413.4 534.8,412.9 534.9,413.9 535.0,407.2 535.1,414.4 535.2,413.2 535.3,411.3 535.4,410.8 535.5,411.1 535.6,412.2 535.7,412.1 535.8,408.3 535.9,413.7 536.0,414.9 536.1,419.3 536.2,407.2 536.3,411.1 536.4,406.7 536.5,414.5 536.6,413.8 536.7,415.5 536.8,405.2 536.9,408.3 537.0,412.0 537.1,416.2 537.2,413.2 537.3,410.1 537.4,409.9 537.5,414.5 537.6,411.8 537.7,407.8 537.8,416.0 537.9,411.7 538.0,414.0 538.1,412.0 538.3,412.0 538.4,415.5 538.5,411.8 538.6,406.7 538.7,417.4 538.8,411.6 538.9,414.0 539.0,410.7 539.1,417.7 539.2,411.0 539.3,412.7 539.4,419.0 539.5,413.0 539.6,415.5 539.7,411.3 539.8,410.4 539.9,410.7 540.0,413.2 540.1,407.5 540.2,407.7 540.3,413.1 540.4,415.2 540.5,411.1 540.6,413.6 540.7,418.0 540.8,410.2 540.9,409.2 541.0,416.6 541.1,410.8 541.2,410.5 541.3,416.1 541.4,408.3 541.5,411.8 541.6,411.3 541.7,414.0 541.8,414.7 541.9,412.0 542.0,412.5 542.1,407.8 542.2,412.2 542.3,415.1 542.4,410.2 542.5,412.6 542.6,416.0 542.7,416.1 542.8,412.5 542.9,411.7 543.0,415.5 543.1,410.0 543.2,411.9 543.3,412.3 543.4,411.3 543.5,408.9 543.6,406.5 543.7,408.8 543.8,411.4 543.9,409.5 544.0,409.3 544.1,411.3 544.2,415.3 544.3,413.4 544.4,407.5 544.5,413.6 544.6,411.7 544.7,415.6 544.8,411.0 544.9,416.0 545.0,407.3 545.1,411.5 545.2,410.0 545.3,407.5 545.4,415.2 545.5,408.1 545.6,410.5 545.7,414.2 545.8,412.5 545.9,414.3 546.0,411.6 546.1,415.6 546.2,408.0 546.3,411.2 546.4,409.8 546.5,413.5 546.6,412.0 546.7,409.6 546.8,409.9 546.9,404.4 547.0,412.5 547.1,413.7 547.2,416.5 547.3,409.5 547.4,412.6 547.5,414.5 547.6,409.6 547.7,411.8 547.8,413.9 547.9,408.5 548.0,410.0 548.1,406.3 548.2,415.2 548.3,413.3 548.4,410.1 548.5,414.6 548.6,410.8 548.7,413.7 548.8,411.1 548.9,412.5 549.0,409.8 549.1,409.6 549.2,409.8 549.3,413.5 549.4,414.1 549.5,407.9 549.6,411.2 549.7,408.2 549.8,410.7 549.9,411.9 550.0,418.0 550.1,413.1 550.2,414.5 550.3,412.2 550.4,411.6 550.5,415.8 550.6,413.7 550.7,408.1 550.8,411.8 550.9,411.3 551.0,412.2 551.1,410.1 551.2,409.5 551.3,413.1 551.4,413.3 551.5,422.3 551.6,406.5 551.7,414.4 551.8,413.0 551.9,408.6 552.0,409.2 552.1,409.6 552.2,409.1 552.3,412.9 552.5,413.4 552.6,410.5 552.7,417.4 552.8,411.9 552.9,416.7 553.0,407.3 553.1,411.8 553.2,412.1 553.3,409.5 553.4,410.3 553.5,411.1 553.6,412.5 553.7,417.4 553.8,414.5 553.9,407.6 554.0,409.1 554.1,407.2 554.2,413.8 554.3,412.8 554.4,411.3 554.5,416.0 554.6,411.7 554.7,409.4 554.8,411.6 554.9,414.5 555.0,409.5 555.1,412.5 555.2,413.7 555.3,416.0 555.4,414.5 555.5,416.6 555.6,413.9 555.7,412.7 555.8,410.5 555.9,416.2 556.0,412.9 556.1,413.8 556.2,406.8 556.3,415.5 556.4,413.0 556.5,412.4 556.6,412.1 556.7,409.8 556.8,411.9 556.9,417.1 557.0,414.0 557.1,410.4 557.2,411.8 557.3,414.8 557.4,417.0 557.5,410.2 557.6,410.7 557.7,411.1 557.8,410.9 557.9,414.2 558.0,409.3 558.1,410.8 558.2,412.6 558.3,415.4 558.4,414.1 558.5,411.4 558.6,410.9 558.7,416.6 558.8,413.3 558.9,416.9 559.0,409.3 559.1,418.8 559.2,413.2 559.3,414.9 559.4,415.5 559.5,411.7 559.6,413.4 559.7,407.1 559.8,412.5 559.9,413.9 560.0,409.4 560.1,417.1 560.2,416.4 560.3,410.2 560.4,409.2 560.5,414.2 560.6,409.0 560.7,414.4 560.8,414.9 560.9,408.4 561.0,421.4 561.1,410.3 561.2,412.8 561.3,409.4 561.4,410.1 561.5,415.9 561.6,415.6 561.7,414.9 561.8,415.6 561.9,414.4 562.0,416.2 562.1,415.4 562.2,411.7 562.3,411.9 562.4,410.0 562.5,412.1 562.6,414.7 562.7,413.7 562.8,410.2 562.9,411.4 563.0,413.3 563.1,412.9 563.2,418.0 563.3,412.3 563.4,417.5 563.5,412.5 563.6,417.7 563.7,416.7 563.8,415.5 563.9,411.2 564.0,411.7 564.1,412.5 564.2,408.3 564.3,413.9 564.4,419.2 564.5,415.1 564.6,410.9 564.7,411.5 564.8,415.8 564.9,417.2 565.0,411.7 565.1,410.7 565.2,412.2 565.3,411.7 565.4,408.3 565.5,411.4 565.6,418.4 565.7,417.5 565.8,412.5 565.9,418.6 566.0,417.0 566.1,414.2 566.2,412.2 566.3,412.8 566.4,413.7 566.5,415.8 566.7,413.9 566.8,417.6 566.9,416.7 567.0,420.9 567.1,410.9 567.2,415.8 567.3,413.8 567.4,413.3 567.5,413.9 567.6,419.4 567.7,410.8 567.8,411.6 567.9,415.3 568.0,416.6 568.1,410.5 568.2,412.9 568.3,411.6 568.4,412.0 568.5,411.2 568.6,415.8 568.7,416.7 568.8,415.1 568.9,410.3 569.0,412.2 569.1,421.3 569.2,414.9 569.3,414.9 569.4,419.0 569.5,415.3 569.6,414.4 569.7,413.0 569.8,417.6 569.9,416.4 570.0,414.3 570.1,414.6 570.2,412.8 570.3,416.0 570.4,412.7 570.5,400.2 570.6,418.9 570.7,416.6 570.8,412.6 570.9,411.4 571.0,412.7 571.1,415.5 571.2,412.3 571.3,417.3 571.4,416.0 571.5,415.2 571.6,419.8 571.7,416.3 571.8,414.7 571.9,418.0 572.0,421.9 572.1,418.2 572.2,415.4 572.3,416.3 572.4,407.9 572.5,419.1 572.6,415.7 572.7,416.0 572.8,413.3 572.9,412.6 573.0,415.0 573.1,418.0 573.2,411.6 573.3,410.9 573.4,417.0 573.5,416.4 573.6,415.0 573.7,412.7 573.8,419.0 573.9,418.8 574.0,412.5 574.1,415.2 574.2,412.7 574.3,414.9 574.4,417.4 574.5,420.4 574.6,414.0 574.7,416.6 574.8,416.0 574.9,423.3 575.0,416.6 575.1,414.1 575.2,418.7 575.3,420.7 575.4,420.8 575.5,411.2 575.6,415.9 575.7,416.9 575.8,411.7 575.9,417.6 576.0,417.5 576.1,414.0 576.2,413.1 576.3,415.7 576.4,413.6 576.5,421.7 576.6,412.8 576.7,417.0 576.8,414.1 576.9,409.1 577.0,410.8 577.1,416.3 577.2,411.6 577.3,414.0 577.4,418.0 577.5,410.9 577.6,417.9 577.7,418.9 577.8,414.7 577.9,414.1 578.0,413.7 578.1,418.8 578.2,417.3 578.3,416.9 578.4,414.7 578.5,418.0 578.6,414.7 578.7,418.5 578.8,412.5 578.9,415.7 579.0,416.4 579.1,413.3 579.2,415.9 579.3,418.1 579.4,416.5 579.5,418.4 579.6,414.4 579.7,416.9 579.8,414.2 579.9,410.2 580.0,412.8 580.1,412.1 580.2,414.0 580.3,417.4 580.4,416.6 580.5,414.3 580.6,419.5 580.7,416.6 580.8,417.5 581.0,417.9 581.1,413.7 581.2,409.3 581.3,417.2 581.4,413.4 581.5,423.8 581.6,418.3 581.7,417.5 581.8,415.4 581.9,416.0 582.0,414.8 582.1,415.1 582.2,415.7 582.3,418.4 582.4,419.3 582.5,420.3 582.6,420.4 582.7,414.2 582.8,410.6 582.9,418.1 583.0,418.2 583.1,414.8 583.2,413.8 583.3,415.2 583.4,415.0 583.5,417.8 583.6,414.4 583.7,416.1 583.8,416.8 583.9,413.7 584.0,414.5 584.1,417.9 584.2,416.2 584.3,410.1 584.4,417.1 584.5,416.8 584.6,418.8 584.7,414.2 584.8,418.5 584.9,414.3 585.0,413.3 585.1,412.6 585.2,418.1 585.3,414.9 585.4,414.7 585.5,417.5 585.6,417.4 585.7,417.9 585.8,415.5 585.9,421.3 586.0,422.0 586.1,409.7 586.2,415.5 586.3,417.5 586.4,416.0 586.5,414.3 586.6,415.9 586.7,412.3 586.8,415.5 586.9,418.0 587.0,413.5 587.1,411.0 587.2,417.1 587.3,414.5 587.4,418.2 587.5,415.5 587.6,412.7 587.7,413.5 587.8,419.6 587.9,415.0 588.0,413.2 588.1,418.9 588.2,419.9 588.3,417.4 588.4,418.0 588.5,416.9 588.6,409.2 588.7,420.0 588.8,416.4 588.9,414.3 589.0,417.5 589.1,413.5 589.2,411.5 589.3,419.3 589.4,411.9 589.5,416.6 589.6,413.6 589.7,416.3 589.8,414.4 589.9,415.6 590.0,417.5 590.1,413.5 590.2,415.4 590.3,415.7 590.4,417.5 590.5,418.1 590.6,414.0 590.7,415.0 590.8,407.8 590.9,417.9 591.0,416.5 591.1,414.2 591.2,417.8 591.3,421.1 591.4,418.0 591.5,412.0 591.6,413.3 591.7,419.6 591.8,417.6 591.9,410.7 592.0,416.4 592.1,418.9 592.2,416.9 592.3,419.1 592.4,413.8 592.5,416.9 592.6,411.4 592.7,417.8 592.8,422.1 592.9,414.7 593.0,416.9 593.1,417.4 593.2,414.7 593.3,415.5 593.4,415.3 593.5,414.1 593.6,416.1 593.7,413.8 593.8,415.8 593.9,413.1 594.0,419.6 594.1,413.9 594.2,415.0 594.3,416.3 594.4,410.5 594.5,417.8 594.6,417.2 594.7,419.1 594.8,417.4 594.9,416.3 595.0,416.5 595.2,414.5 595.3,418.9 595.4,414.9 595.5,419.5 595.6,414.4 595.7,429.2 595.8,418.7 595.9,414.6 596.0,418.4 596.1,416.6 596.2,417.5 596.3,417.7 596.4,414.2 596.5,414.6 596.6,416.8 596.7,420.2 596.8,418.5 596.9,413.9 597.0,416.3 597.1,419.5 597.2,410.5 597.3,414.7 597.4,421.2 597.5,415.8 597.6,414.0 597.7,420.0 597.8,421.1 597.9,412.0 598.0,411.1 598.1,417.3 598.2,418.5 598.3,412.4 598.4,414.8 598.5,421.0 598.6,413.1 598.7,418.3 598.8,416.4 598.9,419.1 599.0,415.3 599.1,415.7 599.2,414.1 599.3,417.3 599.4,413.6 599.5,419.1 599.6,415.5 599.7,418.2 599.8,412.0 599.9,411.1 600.0,414.8 600.1,409.5 600.2,419.9 600.3,420.8 600.4,413.2 600.5,419.4 600.6,408.0 600.7,416.8 600.8,415.1 600.9,415.6 601.0,416.7 601.1,414.0 601.2,421.0 601.3,414.0 601.4,416.6 601.5,419.3 601.6,417.7 601.7,411.3 601.8,415.1 601.9,412.4 602.0,417.1 602.1,414.2 602.2,419.9 602.3,415.3 602.4,410.7 602.5,411.5 602.6,416.1 602.7,414.3 602.8,415.6 602.9,411.9 603.0,417.2 603.1,416.6 603.2,415.1 603.3,413.7 603.4,415.7 603.5,412.6 603.6,417.6 603.7,415.0 603.8,417.1 603.9,420.5 604.0,418.7 604.1,419.9 604.2,414.6 604.3,418.6 604.4,414.2 604.5,417.9 604.6,415.1 604.7,412.9 604.8,415.5 604.9,419.3 605.0,416.8 605.1,414.2 605.2,411.4 605.3,413.2 605.4,415.3 605.5,414.7 605.6,418.0 605.7,415.6 605.8,414.2 605.9,422.5 606.0,418.9 606.1,417.4 606.2,419.7 606.3,414.8 606.4,415.5 606.5,412.3 606.6,420.0 606.7,414.0 606.8,421.1 606.9,413.6 607.0,419.6 607.1,413.9 607.2,415.0 607.3,414.6 607.4,415.8 607.5,418.6 607.6,419.5 607.7,420.1 607.8,416.6 607.9,416.3 608.0,419.3 608.1,420.5 608.2,415.8 608.3,416.0 608.4,418.2 608.5,415.3 608.6,415.7 608.7,418.1 608.8,423.7 608.9,419.7 609.0,416.9 609.1,414.7 609.2,413.9 609.3,418.4 609.5,412.4 609.6,417.6 609.7,412.0 609.8,418.7 609.9,421.0 610.0,416.8 610.1,420.4 610.2,416.6 610.3,416.9 610.4,419.8 610.5,420.7 610.6,415.2 610.7,414.3 610.8,417.2 610.9,413.1 611.0,415.2 611.1,411.5 611.2,416.3 611.3,416.2 611.4,413.8 611.5,414.5 611.6,414.0 611.7,411.8 611.8,423.2 611.9,415.8 612.0,411.2 612.1,413.6 612.2,412.6 612.3,412.8 612.4,419.7 612.5,420.8 612.6,413.2 612.7,414.4 612.8,415.5 612.9,416.9 613.0,422.0 613.1,412.1 613.2,416.1 613.3,416.7 613.4,414.7 613.5,414.0 613.6,417.8 613.7,410.2 613.8,414.9 613.9,419.7 614.0,412.8 614.1,413.8 614.2,418.2 614.3,417.3 614.4,416.0 614.5,410.7 614.6,421.2 614.7,414.8 614.8,419.1 614.9,419.4 615.0,420.2 615.1,420.4 615.2,413.9 615.3,414.0 615.4,414.9 615.5,416.2 615.6,417.8 615.7,416.5 615.8,419.7 615.9,416.9 616.0,411.1 616.1,413.7 616.2,415.4 616.3,415.8 616.4,419.1 616.5,418.7" fill="none" stroke="#000" stroke-width="0.65" stroke-linejoin="round"/>
<line x1="40.3" y1="308.5" x2="40.3" y2="328.5" stroke="#000" stroke-width="1.0"/>
<line x1="45.0" y1="317.0" x2="45.0" y2="330.8" stroke="#000" stroke-width="1.0"/>
<line x1="49.5" y1="317.7" x2="49.5" y2="333.2" stroke="#000" stroke-width="1.0"/>
<line x1="71.5" y1="323.8" x2="71.5" y2="338.8" stroke="#000" stroke-width="1.0"/>
<line x1="105.3" y1="289.7" x2="105.3" y2="337.9" stroke="#000" stroke-width="1.0"/>
<line x1="131.5" y1="299.0" x2="131.5" y2="333.5" stroke="#000" stroke-width="1.6"/>
<line x1="150.0" y1="311.0" x2="150.0" y2="335.0" stroke="#000" stroke-width="1.0"/>
<line x1="116.4" y1="322.0" x2="116.4" y2="335.5" stroke="#000" stroke-width="1.0"/>
<line x1="100.5" y1="327.0" x2="100.5" y2="338.8" stroke="#000" stroke-width="1.0"/>
<line x1="141.6" y1="325.0" x2="141.6" y2="333.5" stroke="#000" stroke-width="1.0"/>
<line x1="161.0" y1="322.0" x2="161.0" y2="336.8" stroke="#000" stroke-width="1.0"/>
<line x1="184.4" y1="327.0" x2="184.4" y2="339.9" stroke="#000" stroke-width="1.0"/>
<line x1="221.5" y1="338.0" x2="221.5" y2="345.7" stroke="#000" stroke-width="1.0"/>
<line x1="227.6" y1="334.0" x2="227.6" y2="347.0" stroke="#000" stroke-width="1.0"/>
<line x1="278.2" y1="342.6" x2="278.2" y2="365.1" stroke="#000" stroke-width="1.0"/>
<line x1="330.5" y1="371.8" x2="330.5" y2="383.4" stroke="#000" stroke-width="1.0"/>
<line x1="365.5" y1="381.0" x2="365.5" y2="390.7" stroke="#000" stroke-width="1.0"/>
<line x1="395.5" y1="385.0" x2="395.5" y2="393.0" stroke="#000" stroke-width="1.0"/>
<line x1="420.8" y1="384.0" x2="420.8" y2="394.5" stroke="#000" stroke-width="1.0"/>
<line x1="505.0" y1="394.0" x2="505.0" y2="403.9" stroke="#000" stroke-width="1.0"/>
<rect x="30" y="11" width="4" height="439" fill="#000"/>
<rect x="615.2" y="11" width="3.8" height="439" fill="#000"/>
<rect x="30" y="11" width="589" height="3.2" fill="#000"/>
<rect x="30" y="446.7" width="589" height="3.3" fill="#000"/>
<rect x="39.9" y="449" width="3.2" height="8.7" fill="#000"/>
<text transform="translate(41.7,481.6) scale(1,1.04)" font-size="24" text-anchor="middle">20</text>
<rect x="88.0" y="449" width="3" height="4.8" fill="#000"/>
<rect x="135.8" y="449" width="3.2" height="8.7" fill="#000"/>
<text transform="translate(137.6,481.6) scale(1,1.04)" font-size="24" text-anchor="middle">30</text>
<rect x="183.9" y="449" width="3" height="4.8" fill="#000"/>
<rect x="231.8" y="449" width="3.2" height="8.7" fill="#000"/>
<text transform="translate(233.6,481.6) scale(1,1.04)" font-size="24" text-anchor="middle">40</text>
<rect x="279.8" y="449" width="3" height="4.8" fill="#000"/>
<rect x="327.7" y="449" width="3.2" height="8.7" fill="#000"/>
<text transform="translate(329.5,481.6) scale(1,1.04)" font-size="24" text-anchor="middle">50</text>
<rect x="375.8" y="449" width="3" height="4.8" fill="#000"/>
<rect x="423.6" y="449" width="3.2" height="8.7" fill="#000"/>
<text transform="translate(425.4,481.6) scale(1,1.04)" font-size="24" text-anchor="middle">60</text>
<rect x="471.7" y="449" width="3" height="4.8" fill="#000"/>
<rect x="519.6" y="449" width="3.2" height="8.7" fill="#000"/>
<text transform="translate(521.4,481.6) scale(1,1.04)" font-size="24" text-anchor="middle">70</text>
<rect x="567.6" y="449" width="3" height="4.8" fill="#000"/>
<rect x="615.2" y="449" width="3.8" height="8.6" fill="#000"/>
<text transform="translate(617.3,481.6) scale(1,1.04)" font-size="24" text-anchor="middle">80</text>
<text transform="translate(324.8,508.4) scale(1,1.03)" font-size="24" text-anchor="middle" id="xl">2 theta (degree)</text>
<text transform="translate(18.9,230) rotate(-90) scale(1.028,1.03)" font-size="24" text-anchor="middle" id="yl">Intensity (a.u.)</text>
<text transform="translate(470.2,57) scale(1,1.04)" font-size="24" letter-spacing="0"><tspan>a: SiO</tspan><tspan font-size="13" dy="9.1" dx="0.6">2</tspan></text>
<text transform="translate(471,95) scale(1,1.04)" font-size="24" letter-spacing="0"><tspan>b: Al</tspan><tspan font-size="13" dy="9.1" dx="0.7">2</tspan><tspan dy="-9.1" dx="0.3">O</tspan><tspan font-size="13" dy="9.1" dx="0.1">3</tspan></text>
<text transform="translate(470.5,133.5) scale(1,1.04)" font-size="24" letter-spacing="0"><tspan>c: CaCl</tspan><tspan font-size="13" dy="9.1" dx="0.7">2</tspan></text>
<text transform="translate(470.3,171.8) scale(1,1.04)" font-size="24" letter-spacing="0.4"><tspan>d: AlCl</tspan><tspan font-size="13" dy="9.1" dx="-0.8">3</tspan></text>
<text transform="translate(470.3,210.4) scale(1,1.04)" font-size="24" letter-spacing="0.45"><tspan>e: Al</tspan></text>
<text x="38" y="307" font-size="9.6">cd</text>
<text x="44.2" y="315.7" font-size="9.6">ba</text>
<text x="68.3" y="321.5" font-size="9.6">d</text>
<text x="95" y="329.2" font-size="9.6">c</text>
<text x="97.2" y="322.8" font-size="9.6">d</text>
<text x="103.4" y="286" font-size="9.6">a</text>
<text x="113.8" y="316.2" font-size="9.6">b</text>
<text x="129.2" y="296.5" font-size="9.6">c</text>
<text x="139.7" y="321.2" font-size="9.6">d</text>
<text x="147" y="308.2" font-size="9.6">c</text>
<text x="154.6" y="322.3" font-size="9.6">c</text>
<text x="159.2" y="318.5" font-size="9.6">d</text>
<text x="160.8" y="327" font-size="9.6">b</text>
<text x="181.6" y="324.4" font-size="9.6">b</text>
<text x="197.8" y="335.5" font-size="9.6">ad</text>
<text x="219" y="335" font-size="9.6">b</text>
<text x="225" y="330.4" font-size="9.6">a</text>
<text x="234.4" y="341.3" font-size="9.6">a</text>
<text x="275.9" y="340.7" font-size="9.6">c</text>
<text x="290.2" y="360.5" font-size="9.6">b</text>
<text x="295.2" y="362" font-size="9.6">b</text>
<text x="327.6" y="369.4" font-size="9.6">a</text>
<text x="362.6" y="380.2" font-size="9.6">d</text>
<text x="392.6" y="384" font-size="9.6">b</text>
<text x="418.7" y="381" font-size="9.6">a</text>
<text x="502.8" y="391.2" font-size="9.6">a</text>
<g font-size="19.5"><text class="wm" x="494.8" y="502.6" style="fill:#bcbcbc;stroke:#d4d4d4;stroke-width:1">知乎 @telent7</text><text class="wm" x="494" y="501.8" style="fill:#fff">知乎 @telent7</text></g>
</svg>
</body></html>
